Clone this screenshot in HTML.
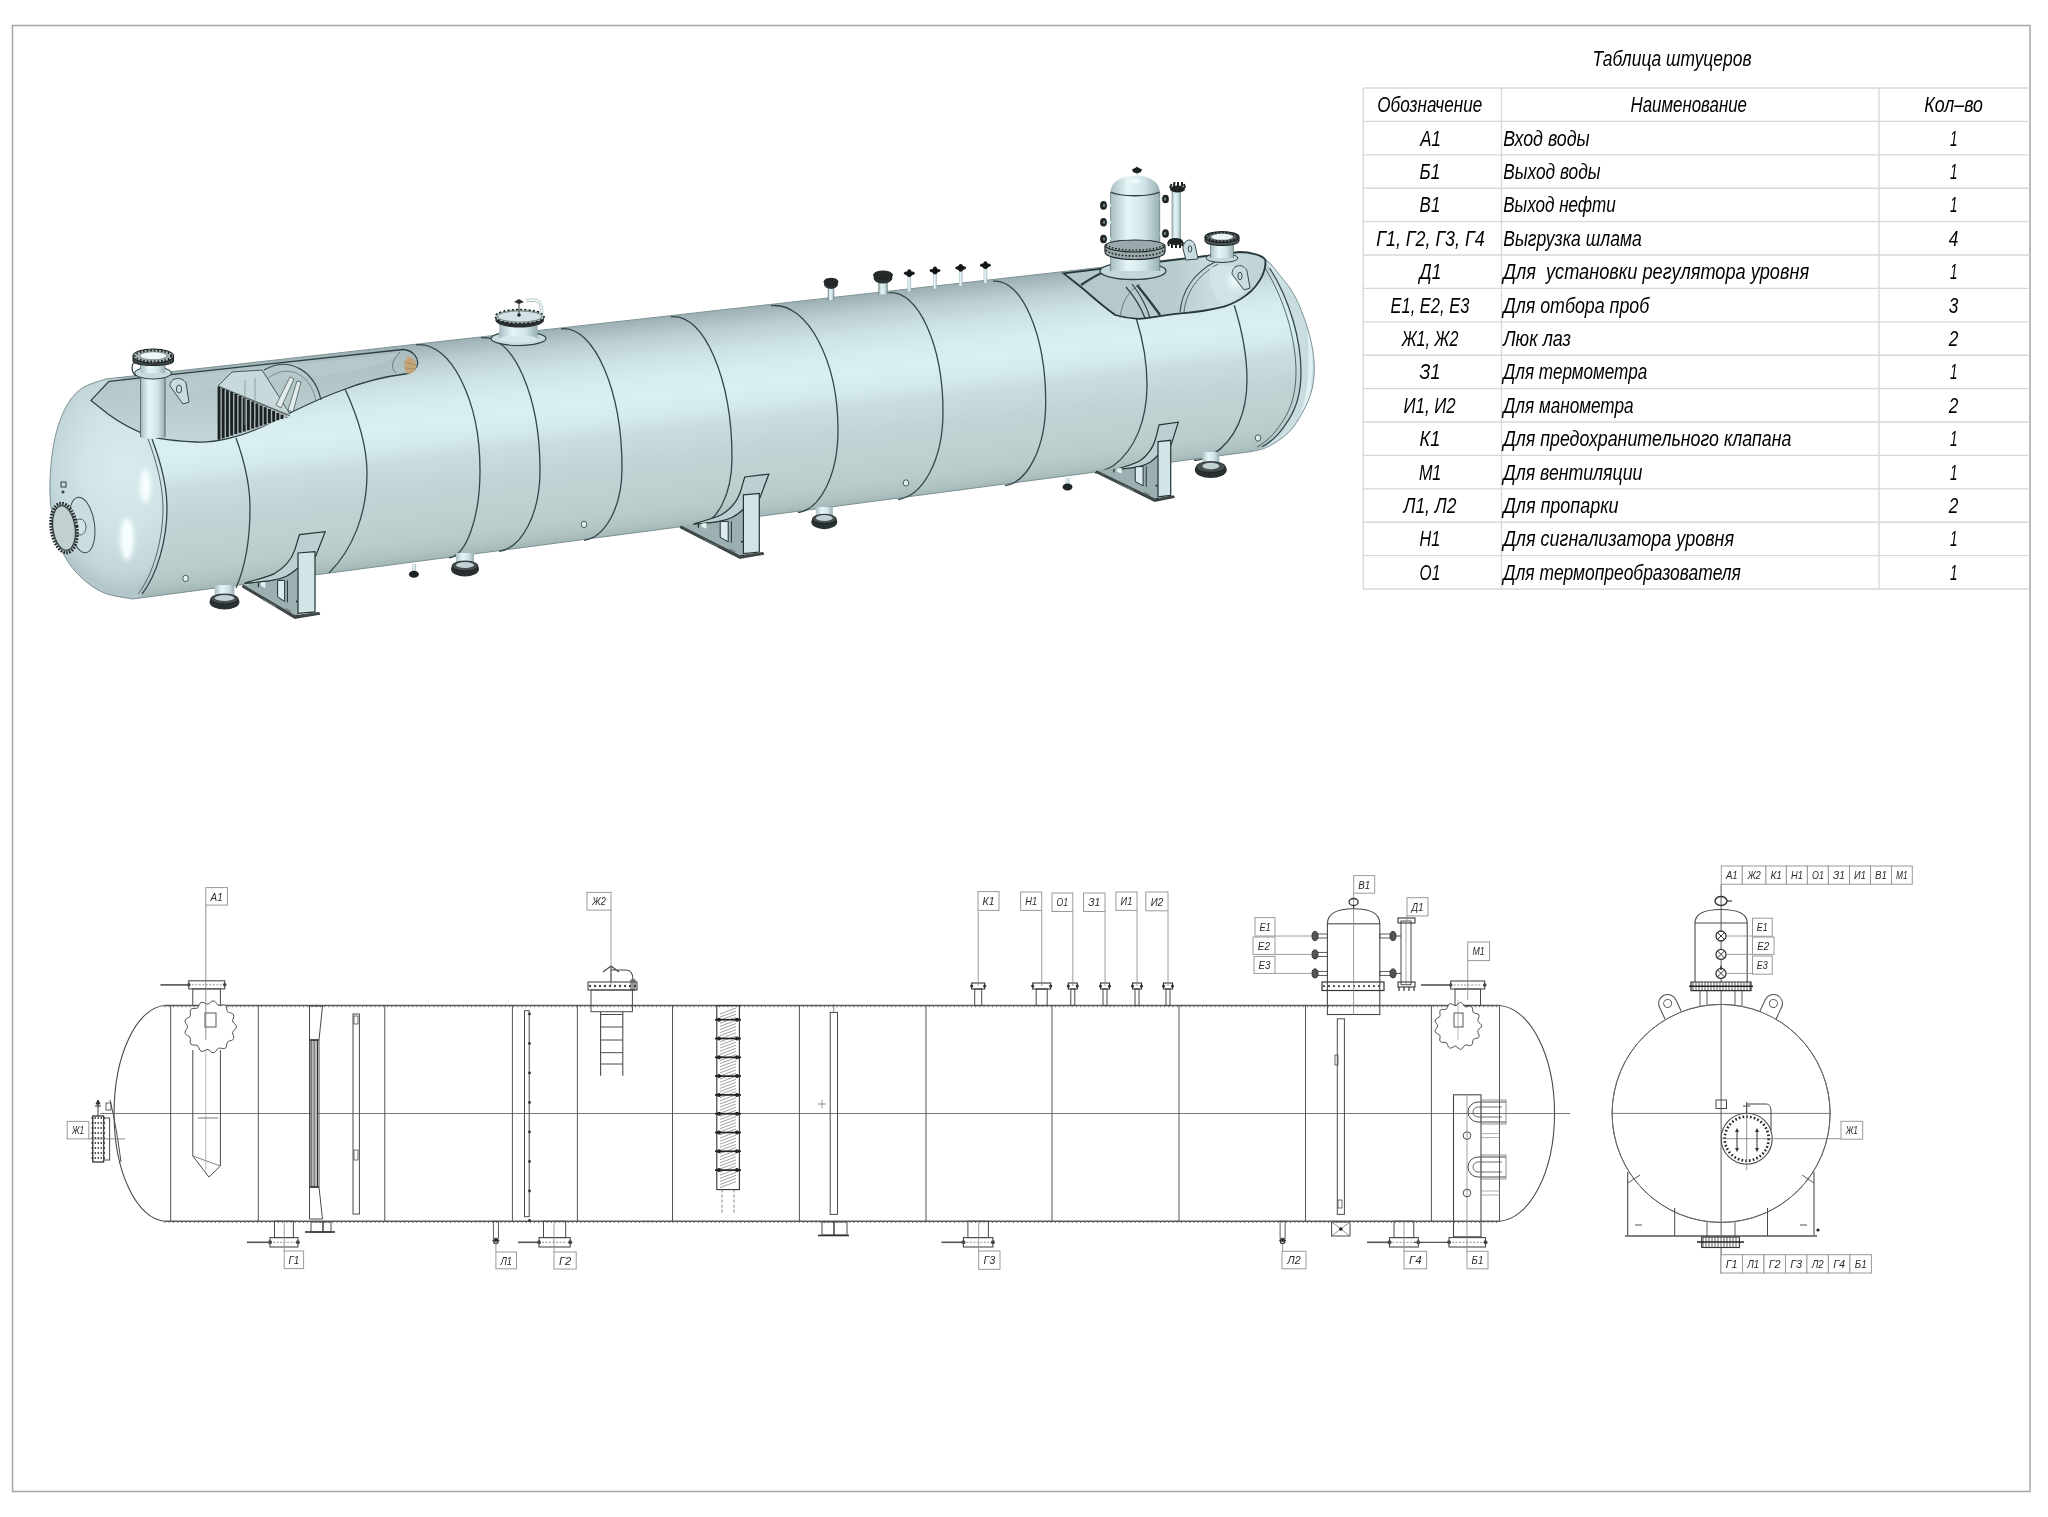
<!DOCTYPE html><html><head><meta charset="utf-8"><style>
html,body{margin:0;padding:0;background:#fff;}
body{width:2048px;height:1517px;overflow:hidden;position:relative;}
svg{position:absolute;left:0;top:0;will-change:transform;}
text{font-family:"Liberation Sans",sans-serif;font-style:italic;}
</style></head><body>
<svg width="2048" height="1517" viewBox="0 0 2048 1517">
<defs>
<linearGradient id="gBody" gradientUnits="userSpaceOnUse" x1="690" y1="308" x2="714" y2="526">
<stop offset="0" stop-color="#b0c4c7"/><stop offset="0.07" stop-color="#bed2d4"/>
<stop offset="0.18" stop-color="#cde2e4"/><stop offset="0.28" stop-color="#d6ecee"/>
<stop offset="0.37" stop-color="#d9eff1"/><stop offset="0.46" stop-color="#d4e9eb"/>
<stop offset="0.53" stop-color="#c9dddf"/><stop offset="0.67" stop-color="#c1d4d5"/>
<stop offset="0.8" stop-color="#bed1d1"/><stop offset="0.9" stop-color="#b9cccc"/>
<stop offset="0.96" stop-color="#b0c3c3"/><stop offset="1" stop-color="#a2b6b4"/></linearGradient>
<linearGradient id="gCut" gradientUnits="userSpaceOnUse" x1="0" y1="350" x2="0" y2="445">
<stop offset="0" stop-color="#a9bdbf"/><stop offset="1" stop-color="#c4d7d9"/></linearGradient>
<radialGradient id="gLHead" gradientUnits="userSpaceOnUse" cx="125" cy="470" r="120" gradientTransform="translate(125 470) scale(0.7 1) translate(-125 -470)">
<stop offset="0" stop-color="#d8ecef"/><stop offset="0.5" stop-color="#d0e4e7"/><stop offset="0.85" stop-color="#c3d7da"/><stop offset="1" stop-color="#b3c7ca"/></radialGradient>
<radialGradient id="gRHead" gradientUnits="userSpaceOnUse" cx="1270" cy="360" r="70" gradientTransform="translate(1270 360) scale(0.8 1.5) translate(-1270 -360)">
<stop offset="0" stop-color="#d4e9eb"/><stop offset="0.7" stop-color="#c8dcde"/><stop offset="0.9" stop-color="#d6ebed"/><stop offset="1" stop-color="#a5b9bb"/></radialGradient>
<linearGradient id="gPipe" x1="0" x2="1" y1="0" y2="0">
<stop offset="0" stop-color="#a9bfc2"/><stop offset="0.35" stop-color="#e6f6f8"/><stop offset="0.7" stop-color="#cfe3e6"/><stop offset="1" stop-color="#98aeb1"/></linearGradient>
<filter id="blur3" x="-50%" y="-50%" width="200%" height="200%"><feGaussianBlur stdDeviation="3"/></filter>
<filter id="blur2" x="-50%" y="-50%" width="200%" height="200%"><feGaussianBlur stdDeviation="2.2"/></filter>
<filter id="blur1" x="-50%" y="-50%" width="200%" height="200%"><feGaussianBlur stdDeviation="0.6"/></filter>
</defs>
<rect x="12.5" y="25.5" width="2017.5" height="1466" fill="none" stroke="#a6a6a6" stroke-width="1.5"/>

<g id="tank">
<clipPath id="cBody"><path d="M105.9,379 L1238,252 C1242.2,252.9 1256.2,254.0 1263.0,257.7 C1269.8,261.4 1273.7,267.9 1279.0,274.3 C1284.3,280.8 1290.2,287.4 1294.9,296.4 C1299.7,305.3 1304.3,317.4 1307.5,328.0 C1310.7,338.6 1313.1,349.7 1313.9,359.7 C1314.7,369.7 1314.2,379.3 1312.3,388.0 C1310.4,396.7 1306.8,404.5 1302.8,411.9 C1298.8,419.3 1294.4,426.6 1288.6,432.4 C1282.8,438.2 1274.1,443.5 1268.0,446.7 C1261.9,449.9 1254.8,450.6 1252.2,451.4 L132.3,599 C127.4,597.9 111.7,596.4 102.6,592.3 C93.5,588.2 84.8,581.3 77.9,574.2 C71.0,567.1 65.7,559.1 61.4,549.5 C57.1,539.9 54.3,527.5 52.4,516.5 C50.5,505.5 49.6,496.0 49.9,483.6 C50.2,471.2 51.5,454.8 54.0,442.4 C56.5,430.0 60.2,418.3 64.7,409.4 C69.2,400.5 74.3,393.9 81.2,388.8 C88.1,383.7 101.8,380.6 105.9,379.0 Z"/></clipPath>
<g clip-path="url(#cBody)">
<linearGradient id="gs0" gradientUnits="userSpaceOnUse" x1="57.8" y1="384.3" x2="84.7" y2="605.2"><stop offset="0" stop-color="#9eb1b4"/><stop offset="0.03" stop-color="#a9bbbe"/><stop offset="0.08" stop-color="#b9cccf"/><stop offset="0.18" stop-color="#cde2e4"/><stop offset="0.28" stop-color="#d6ecee"/><stop offset="0.37" stop-color="#d9eff1"/><stop offset="0.46" stop-color="#d4e9eb"/><stop offset="0.53" stop-color="#c9dddf"/><stop offset="0.67" stop-color="#c1d4d5"/><stop offset="0.8" stop-color="#bed1d1"/><stop offset="0.9" stop-color="#b9cccc"/><stop offset="0.96" stop-color="#b0c3c3"/><stop offset="1" stop-color="#a2b6b4"/></linearGradient>
<path d="M39.4,200 L76.2,200 L76.2,640 L39.4,640 Z" fill="url(#gs0)"/>
<linearGradient id="gs1" gradientUnits="userSpaceOnUse" x1="93.3" y1="380.4" x2="120.2" y2="600.6"><stop offset="0" stop-color="#9eb1b4"/><stop offset="0.03" stop-color="#a9bbbe"/><stop offset="0.08" stop-color="#b9cccf"/><stop offset="0.18" stop-color="#cde2e4"/><stop offset="0.28" stop-color="#d6ecee"/><stop offset="0.37" stop-color="#d9eff1"/><stop offset="0.46" stop-color="#d4e9eb"/><stop offset="0.53" stop-color="#c9dddf"/><stop offset="0.67" stop-color="#c1d4d5"/><stop offset="0.8" stop-color="#bed1d1"/><stop offset="0.9" stop-color="#b9cccc"/><stop offset="0.96" stop-color="#b0c3c3"/><stop offset="1" stop-color="#a2b6b4"/></linearGradient>
<path d="M75.0,200 L111.7,200 L111.7,640 L75.0,640 Z" fill="url(#gs1)"/>
<linearGradient id="gs2" gradientUnits="userSpaceOnUse" x1="128.9" y1="376.5" x2="155.6" y2="596.0"><stop offset="0" stop-color="#9eb1b4"/><stop offset="0.03" stop-color="#a9bbbe"/><stop offset="0.08" stop-color="#b9cccf"/><stop offset="0.18" stop-color="#cde2e4"/><stop offset="0.28" stop-color="#d6ecee"/><stop offset="0.37" stop-color="#d9eff1"/><stop offset="0.46" stop-color="#d4e9eb"/><stop offset="0.53" stop-color="#c9dddf"/><stop offset="0.67" stop-color="#c1d4d5"/><stop offset="0.8" stop-color="#bed1d1"/><stop offset="0.9" stop-color="#b9cccc"/><stop offset="0.96" stop-color="#b0c3c3"/><stop offset="1" stop-color="#a2b6b4"/></linearGradient>
<path d="M110.5,200 L147.3,200 L147.3,640 L110.5,640 Z" fill="url(#gs2)"/>
<linearGradient id="gs3" gradientUnits="userSpaceOnUse" x1="164.4" y1="372.5" x2="191.1" y2="591.4"><stop offset="0" stop-color="#9eb1b4"/><stop offset="0.03" stop-color="#a9bbbe"/><stop offset="0.08" stop-color="#b9cccf"/><stop offset="0.18" stop-color="#cde2e4"/><stop offset="0.28" stop-color="#d6ecee"/><stop offset="0.37" stop-color="#d9eff1"/><stop offset="0.46" stop-color="#d4e9eb"/><stop offset="0.53" stop-color="#c9dddf"/><stop offset="0.67" stop-color="#c1d4d5"/><stop offset="0.8" stop-color="#bed1d1"/><stop offset="0.9" stop-color="#b9cccc"/><stop offset="0.96" stop-color="#b0c3c3"/><stop offset="1" stop-color="#a2b6b4"/></linearGradient>
<path d="M146.1,200 L182.8,200 L182.8,640 L146.1,640 Z" fill="url(#gs3)"/>
<linearGradient id="gs4" gradientUnits="userSpaceOnUse" x1="200.0" y1="368.6" x2="226.6" y2="586.7"><stop offset="0" stop-color="#9eb1b4"/><stop offset="0.03" stop-color="#a9bbbe"/><stop offset="0.08" stop-color="#b9cccf"/><stop offset="0.18" stop-color="#cde2e4"/><stop offset="0.28" stop-color="#d6ecee"/><stop offset="0.37" stop-color="#d9eff1"/><stop offset="0.46" stop-color="#d4e9eb"/><stop offset="0.53" stop-color="#c9dddf"/><stop offset="0.67" stop-color="#c1d4d5"/><stop offset="0.8" stop-color="#bed1d1"/><stop offset="0.9" stop-color="#b9cccc"/><stop offset="0.96" stop-color="#b0c3c3"/><stop offset="1" stop-color="#a2b6b4"/></linearGradient>
<path d="M181.6,200 L218.4,200 L218.4,640 L181.6,640 Z" fill="url(#gs4)"/>
<linearGradient id="gs5" gradientUnits="userSpaceOnUse" x1="235.6" y1="364.7" x2="262.1" y2="582.1"><stop offset="0" stop-color="#9eb1b4"/><stop offset="0.03" stop-color="#a9bbbe"/><stop offset="0.08" stop-color="#b9cccf"/><stop offset="0.18" stop-color="#cde2e4"/><stop offset="0.28" stop-color="#d6ecee"/><stop offset="0.37" stop-color="#d9eff1"/><stop offset="0.46" stop-color="#d4e9eb"/><stop offset="0.53" stop-color="#c9dddf"/><stop offset="0.67" stop-color="#c1d4d5"/><stop offset="0.8" stop-color="#bed1d1"/><stop offset="0.9" stop-color="#b9cccc"/><stop offset="0.96" stop-color="#b0c3c3"/><stop offset="1" stop-color="#a2b6b4"/></linearGradient>
<path d="M217.2,200 L253.9,200 L253.9,640 L217.2,640 Z" fill="url(#gs5)"/>
<linearGradient id="gs6" gradientUnits="userSpaceOnUse" x1="271.1" y1="360.8" x2="297.5" y2="577.5"><stop offset="0" stop-color="#9eb1b4"/><stop offset="0.03" stop-color="#a9bbbe"/><stop offset="0.08" stop-color="#b9cccf"/><stop offset="0.18" stop-color="#cde2e4"/><stop offset="0.28" stop-color="#d6ecee"/><stop offset="0.37" stop-color="#d9eff1"/><stop offset="0.46" stop-color="#d4e9eb"/><stop offset="0.53" stop-color="#c9dddf"/><stop offset="0.67" stop-color="#c1d4d5"/><stop offset="0.8" stop-color="#bed1d1"/><stop offset="0.9" stop-color="#b9cccc"/><stop offset="0.96" stop-color="#b0c3c3"/><stop offset="1" stop-color="#a2b6b4"/></linearGradient>
<path d="M252.7,200 L289.5,200 L289.5,640 L252.7,640 Z" fill="url(#gs6)"/>
<linearGradient id="gs7" gradientUnits="userSpaceOnUse" x1="306.7" y1="356.9" x2="333.0" y2="572.9"><stop offset="0" stop-color="#9eb1b4"/><stop offset="0.03" stop-color="#a9bbbe"/><stop offset="0.08" stop-color="#b9cccf"/><stop offset="0.18" stop-color="#cde2e4"/><stop offset="0.28" stop-color="#d6ecee"/><stop offset="0.37" stop-color="#d9eff1"/><stop offset="0.46" stop-color="#d4e9eb"/><stop offset="0.53" stop-color="#c9dddf"/><stop offset="0.67" stop-color="#c1d4d5"/><stop offset="0.8" stop-color="#bed1d1"/><stop offset="0.9" stop-color="#b9cccc"/><stop offset="0.96" stop-color="#b0c3c3"/><stop offset="1" stop-color="#a2b6b4"/></linearGradient>
<path d="M288.3,200 L325.0,200 L325.0,640 L288.3,640 Z" fill="url(#gs7)"/>
<linearGradient id="gs8" gradientUnits="userSpaceOnUse" x1="342.2" y1="353.0" x2="368.5" y2="568.3"><stop offset="0" stop-color="#9eb1b4"/><stop offset="0.03" stop-color="#a9bbbe"/><stop offset="0.08" stop-color="#b9cccf"/><stop offset="0.18" stop-color="#cde2e4"/><stop offset="0.28" stop-color="#d6ecee"/><stop offset="0.37" stop-color="#d9eff1"/><stop offset="0.46" stop-color="#d4e9eb"/><stop offset="0.53" stop-color="#c9dddf"/><stop offset="0.67" stop-color="#c1d4d5"/><stop offset="0.8" stop-color="#bed1d1"/><stop offset="0.9" stop-color="#b9cccc"/><stop offset="0.96" stop-color="#b0c3c3"/><stop offset="1" stop-color="#a2b6b4"/></linearGradient>
<path d="M323.8,200 L360.6,200 L360.6,640 L323.8,640 Z" fill="url(#gs8)"/>
<linearGradient id="gs9" gradientUnits="userSpaceOnUse" x1="377.8" y1="349.0" x2="403.9" y2="563.7"><stop offset="0" stop-color="#9eb1b4"/><stop offset="0.03" stop-color="#a9bbbe"/><stop offset="0.08" stop-color="#b9cccf"/><stop offset="0.18" stop-color="#cde2e4"/><stop offset="0.28" stop-color="#d6ecee"/><stop offset="0.37" stop-color="#d9eff1"/><stop offset="0.46" stop-color="#d4e9eb"/><stop offset="0.53" stop-color="#c9dddf"/><stop offset="0.67" stop-color="#c1d4d5"/><stop offset="0.8" stop-color="#bed1d1"/><stop offset="0.9" stop-color="#b9cccc"/><stop offset="0.96" stop-color="#b0c3c3"/><stop offset="1" stop-color="#a2b6b4"/></linearGradient>
<path d="M359.4,200 L396.2,200 L396.2,640 L359.4,640 Z" fill="url(#gs9)"/>
<linearGradient id="gs10" gradientUnits="userSpaceOnUse" x1="413.3" y1="345.1" x2="439.4" y2="559.1"><stop offset="0" stop-color="#9eb1b4"/><stop offset="0.03" stop-color="#a9bbbe"/><stop offset="0.08" stop-color="#b9cccf"/><stop offset="0.18" stop-color="#cde2e4"/><stop offset="0.28" stop-color="#d6ecee"/><stop offset="0.37" stop-color="#d9eff1"/><stop offset="0.46" stop-color="#d4e9eb"/><stop offset="0.53" stop-color="#c9dddf"/><stop offset="0.67" stop-color="#c1d4d5"/><stop offset="0.8" stop-color="#bed1d1"/><stop offset="0.9" stop-color="#b9cccc"/><stop offset="0.96" stop-color="#b0c3c3"/><stop offset="1" stop-color="#a2b6b4"/></linearGradient>
<path d="M395.0,200 L431.7,200 L431.7,640 L395.0,640 Z" fill="url(#gs10)"/>
<linearGradient id="gs11" gradientUnits="userSpaceOnUse" x1="448.9" y1="341.2" x2="474.9" y2="554.5"><stop offset="0" stop-color="#9eb1b4"/><stop offset="0.03" stop-color="#a9bbbe"/><stop offset="0.08" stop-color="#b9cccf"/><stop offset="0.18" stop-color="#cde2e4"/><stop offset="0.28" stop-color="#d6ecee"/><stop offset="0.37" stop-color="#d9eff1"/><stop offset="0.46" stop-color="#d4e9eb"/><stop offset="0.53" stop-color="#c9dddf"/><stop offset="0.67" stop-color="#c1d4d5"/><stop offset="0.8" stop-color="#bed1d1"/><stop offset="0.9" stop-color="#b9cccc"/><stop offset="0.96" stop-color="#b0c3c3"/><stop offset="1" stop-color="#a2b6b4"/></linearGradient>
<path d="M430.5,200 L467.3,200 L467.3,640 L430.5,640 Z" fill="url(#gs11)"/>
<linearGradient id="gs12" gradientUnits="userSpaceOnUse" x1="484.4" y1="337.3" x2="510.4" y2="549.9"><stop offset="0" stop-color="#9eb1b4"/><stop offset="0.03" stop-color="#a9bbbe"/><stop offset="0.08" stop-color="#b9cccf"/><stop offset="0.18" stop-color="#cde2e4"/><stop offset="0.28" stop-color="#d6ecee"/><stop offset="0.37" stop-color="#d9eff1"/><stop offset="0.46" stop-color="#d4e9eb"/><stop offset="0.53" stop-color="#c9dddf"/><stop offset="0.67" stop-color="#c1d4d5"/><stop offset="0.8" stop-color="#bed1d1"/><stop offset="0.9" stop-color="#b9cccc"/><stop offset="0.96" stop-color="#b0c3c3"/><stop offset="1" stop-color="#a2b6b4"/></linearGradient>
<path d="M466.1,200 L502.8,200 L502.8,640 L466.1,640 Z" fill="url(#gs12)"/>
<linearGradient id="gs13" gradientUnits="userSpaceOnUse" x1="520.0" y1="333.4" x2="545.8" y2="545.2"><stop offset="0" stop-color="#9eb1b4"/><stop offset="0.03" stop-color="#a9bbbe"/><stop offset="0.08" stop-color="#b9cccf"/><stop offset="0.18" stop-color="#cde2e4"/><stop offset="0.28" stop-color="#d6ecee"/><stop offset="0.37" stop-color="#d9eff1"/><stop offset="0.46" stop-color="#d4e9eb"/><stop offset="0.53" stop-color="#c9dddf"/><stop offset="0.67" stop-color="#c1d4d5"/><stop offset="0.8" stop-color="#bed1d1"/><stop offset="0.9" stop-color="#b9cccc"/><stop offset="0.96" stop-color="#b0c3c3"/><stop offset="1" stop-color="#a2b6b4"/></linearGradient>
<path d="M501.6,200 L538.4,200 L538.4,640 L501.6,640 Z" fill="url(#gs13)"/>
<linearGradient id="gs14" gradientUnits="userSpaceOnUse" x1="555.6" y1="329.4" x2="581.3" y2="540.6"><stop offset="0" stop-color="#9eb1b4"/><stop offset="0.03" stop-color="#a9bbbe"/><stop offset="0.08" stop-color="#b9cccf"/><stop offset="0.18" stop-color="#cde2e4"/><stop offset="0.28" stop-color="#d6ecee"/><stop offset="0.37" stop-color="#d9eff1"/><stop offset="0.46" stop-color="#d4e9eb"/><stop offset="0.53" stop-color="#c9dddf"/><stop offset="0.67" stop-color="#c1d4d5"/><stop offset="0.8" stop-color="#bed1d1"/><stop offset="0.9" stop-color="#b9cccc"/><stop offset="0.96" stop-color="#b0c3c3"/><stop offset="1" stop-color="#a2b6b4"/></linearGradient>
<path d="M537.2,200 L573.9,200 L573.9,640 L537.2,640 Z" fill="url(#gs14)"/>
<linearGradient id="gs15" gradientUnits="userSpaceOnUse" x1="591.1" y1="325.5" x2="616.8" y2="536.0"><stop offset="0" stop-color="#9eb1b4"/><stop offset="0.03" stop-color="#a9bbbe"/><stop offset="0.08" stop-color="#b9cccf"/><stop offset="0.18" stop-color="#cde2e4"/><stop offset="0.28" stop-color="#d6ecee"/><stop offset="0.37" stop-color="#d9eff1"/><stop offset="0.46" stop-color="#d4e9eb"/><stop offset="0.53" stop-color="#c9dddf"/><stop offset="0.67" stop-color="#c1d4d5"/><stop offset="0.8" stop-color="#bed1d1"/><stop offset="0.9" stop-color="#b9cccc"/><stop offset="0.96" stop-color="#b0c3c3"/><stop offset="1" stop-color="#a2b6b4"/></linearGradient>
<path d="M572.7,200 L609.5,200 L609.5,640 L572.7,640 Z" fill="url(#gs15)"/>
<linearGradient id="gs16" gradientUnits="userSpaceOnUse" x1="626.7" y1="321.6" x2="652.2" y2="531.4"><stop offset="0" stop-color="#9eb1b4"/><stop offset="0.03" stop-color="#a9bbbe"/><stop offset="0.08" stop-color="#b9cccf"/><stop offset="0.18" stop-color="#cde2e4"/><stop offset="0.28" stop-color="#d6ecee"/><stop offset="0.37" stop-color="#d9eff1"/><stop offset="0.46" stop-color="#d4e9eb"/><stop offset="0.53" stop-color="#c9dddf"/><stop offset="0.67" stop-color="#c1d4d5"/><stop offset="0.8" stop-color="#bed1d1"/><stop offset="0.9" stop-color="#b9cccc"/><stop offset="0.96" stop-color="#b0c3c3"/><stop offset="1" stop-color="#a2b6b4"/></linearGradient>
<path d="M608.3,200 L645.0,200 L645.0,640 L608.3,640 Z" fill="url(#gs16)"/>
<linearGradient id="gs17" gradientUnits="userSpaceOnUse" x1="662.2" y1="317.7" x2="687.7" y2="526.8"><stop offset="0" stop-color="#9eb1b4"/><stop offset="0.03" stop-color="#a9bbbe"/><stop offset="0.08" stop-color="#b9cccf"/><stop offset="0.18" stop-color="#cde2e4"/><stop offset="0.28" stop-color="#d6ecee"/><stop offset="0.37" stop-color="#d9eff1"/><stop offset="0.46" stop-color="#d4e9eb"/><stop offset="0.53" stop-color="#c9dddf"/><stop offset="0.67" stop-color="#c1d4d5"/><stop offset="0.8" stop-color="#bed1d1"/><stop offset="0.9" stop-color="#b9cccc"/><stop offset="0.96" stop-color="#b0c3c3"/><stop offset="1" stop-color="#a2b6b4"/></linearGradient>
<path d="M643.8,200 L680.6,200 L680.6,640 L643.8,640 Z" fill="url(#gs17)"/>
<linearGradient id="gs18" gradientUnits="userSpaceOnUse" x1="697.8" y1="313.8" x2="723.2" y2="522.2"><stop offset="0" stop-color="#9eb1b4"/><stop offset="0.03" stop-color="#a9bbbe"/><stop offset="0.08" stop-color="#b9cccf"/><stop offset="0.18" stop-color="#cde2e4"/><stop offset="0.28" stop-color="#d6ecee"/><stop offset="0.37" stop-color="#d9eff1"/><stop offset="0.46" stop-color="#d4e9eb"/><stop offset="0.53" stop-color="#c9dddf"/><stop offset="0.67" stop-color="#c1d4d5"/><stop offset="0.8" stop-color="#bed1d1"/><stop offset="0.9" stop-color="#b9cccc"/><stop offset="0.96" stop-color="#b0c3c3"/><stop offset="1" stop-color="#a2b6b4"/></linearGradient>
<path d="M679.4,200 L716.2,200 L716.2,640 L679.4,640 Z" fill="url(#gs18)"/>
<linearGradient id="gs19" gradientUnits="userSpaceOnUse" x1="733.3" y1="309.9" x2="758.7" y2="517.6"><stop offset="0" stop-color="#9eb1b4"/><stop offset="0.03" stop-color="#a9bbbe"/><stop offset="0.08" stop-color="#b9cccf"/><stop offset="0.18" stop-color="#cde2e4"/><stop offset="0.28" stop-color="#d6ecee"/><stop offset="0.37" stop-color="#d9eff1"/><stop offset="0.46" stop-color="#d4e9eb"/><stop offset="0.53" stop-color="#c9dddf"/><stop offset="0.67" stop-color="#c1d4d5"/><stop offset="0.8" stop-color="#bed1d1"/><stop offset="0.9" stop-color="#b9cccc"/><stop offset="0.96" stop-color="#b0c3c3"/><stop offset="1" stop-color="#a2b6b4"/></linearGradient>
<path d="M715.0,200 L751.7,200 L751.7,640 L715.0,640 Z" fill="url(#gs19)"/>
<linearGradient id="gs20" gradientUnits="userSpaceOnUse" x1="768.9" y1="305.9" x2="794.1" y2="513.0"><stop offset="0" stop-color="#9eb1b4"/><stop offset="0.03" stop-color="#a9bbbe"/><stop offset="0.08" stop-color="#b9cccf"/><stop offset="0.18" stop-color="#cde2e4"/><stop offset="0.28" stop-color="#d6ecee"/><stop offset="0.37" stop-color="#d9eff1"/><stop offset="0.46" stop-color="#d4e9eb"/><stop offset="0.53" stop-color="#c9dddf"/><stop offset="0.67" stop-color="#c1d4d5"/><stop offset="0.8" stop-color="#bed1d1"/><stop offset="0.9" stop-color="#b9cccc"/><stop offset="0.96" stop-color="#b0c3c3"/><stop offset="1" stop-color="#a2b6b4"/></linearGradient>
<path d="M750.5,200 L787.3,200 L787.3,640 L750.5,640 Z" fill="url(#gs20)"/>
<linearGradient id="gs21" gradientUnits="userSpaceOnUse" x1="804.4" y1="302.0" x2="829.6" y2="508.4"><stop offset="0" stop-color="#9eb1b4"/><stop offset="0.03" stop-color="#a9bbbe"/><stop offset="0.08" stop-color="#b9cccf"/><stop offset="0.18" stop-color="#cde2e4"/><stop offset="0.28" stop-color="#d6ecee"/><stop offset="0.37" stop-color="#d9eff1"/><stop offset="0.46" stop-color="#d4e9eb"/><stop offset="0.53" stop-color="#c9dddf"/><stop offset="0.67" stop-color="#c1d4d5"/><stop offset="0.8" stop-color="#bed1d1"/><stop offset="0.9" stop-color="#b9cccc"/><stop offset="0.96" stop-color="#b0c3c3"/><stop offset="1" stop-color="#a2b6b4"/></linearGradient>
<path d="M786.1,200 L822.8,200 L822.8,640 L786.1,640 Z" fill="url(#gs21)"/>
<linearGradient id="gs22" gradientUnits="userSpaceOnUse" x1="840.0" y1="298.1" x2="865.1" y2="503.7"><stop offset="0" stop-color="#9eb1b4"/><stop offset="0.03" stop-color="#a9bbbe"/><stop offset="0.08" stop-color="#b9cccf"/><stop offset="0.18" stop-color="#cde2e4"/><stop offset="0.28" stop-color="#d6ecee"/><stop offset="0.37" stop-color="#d9eff1"/><stop offset="0.46" stop-color="#d4e9eb"/><stop offset="0.53" stop-color="#c9dddf"/><stop offset="0.67" stop-color="#c1d4d5"/><stop offset="0.8" stop-color="#bed1d1"/><stop offset="0.9" stop-color="#b9cccc"/><stop offset="0.96" stop-color="#b0c3c3"/><stop offset="1" stop-color="#a2b6b4"/></linearGradient>
<path d="M821.6,200 L858.4,200 L858.4,640 L821.6,640 Z" fill="url(#gs22)"/>
<linearGradient id="gs23" gradientUnits="userSpaceOnUse" x1="875.6" y1="294.2" x2="900.5" y2="499.1"><stop offset="0" stop-color="#9eb1b4"/><stop offset="0.03" stop-color="#a9bbbe"/><stop offset="0.08" stop-color="#b9cccf"/><stop offset="0.18" stop-color="#cde2e4"/><stop offset="0.28" stop-color="#d6ecee"/><stop offset="0.37" stop-color="#d9eff1"/><stop offset="0.46" stop-color="#d4e9eb"/><stop offset="0.53" stop-color="#c9dddf"/><stop offset="0.67" stop-color="#c1d4d5"/><stop offset="0.8" stop-color="#bed1d1"/><stop offset="0.9" stop-color="#b9cccc"/><stop offset="0.96" stop-color="#b0c3c3"/><stop offset="1" stop-color="#a2b6b4"/></linearGradient>
<path d="M857.2,200 L893.9,200 L893.9,640 L857.2,640 Z" fill="url(#gs23)"/>
<linearGradient id="gs24" gradientUnits="userSpaceOnUse" x1="911.1" y1="290.3" x2="936.0" y2="494.5"><stop offset="0" stop-color="#9eb1b4"/><stop offset="0.03" stop-color="#a9bbbe"/><stop offset="0.08" stop-color="#b9cccf"/><stop offset="0.18" stop-color="#cde2e4"/><stop offset="0.28" stop-color="#d6ecee"/><stop offset="0.37" stop-color="#d9eff1"/><stop offset="0.46" stop-color="#d4e9eb"/><stop offset="0.53" stop-color="#c9dddf"/><stop offset="0.67" stop-color="#c1d4d5"/><stop offset="0.8" stop-color="#bed1d1"/><stop offset="0.9" stop-color="#b9cccc"/><stop offset="0.96" stop-color="#b0c3c3"/><stop offset="1" stop-color="#a2b6b4"/></linearGradient>
<path d="M892.7,200 L929.5,200 L929.5,640 L892.7,640 Z" fill="url(#gs24)"/>
<linearGradient id="gs25" gradientUnits="userSpaceOnUse" x1="946.7" y1="286.3" x2="971.5" y2="489.9"><stop offset="0" stop-color="#9eb1b4"/><stop offset="0.03" stop-color="#a9bbbe"/><stop offset="0.08" stop-color="#b9cccf"/><stop offset="0.18" stop-color="#cde2e4"/><stop offset="0.28" stop-color="#d6ecee"/><stop offset="0.37" stop-color="#d9eff1"/><stop offset="0.46" stop-color="#d4e9eb"/><stop offset="0.53" stop-color="#c9dddf"/><stop offset="0.67" stop-color="#c1d4d5"/><stop offset="0.8" stop-color="#bed1d1"/><stop offset="0.9" stop-color="#b9cccc"/><stop offset="0.96" stop-color="#b0c3c3"/><stop offset="1" stop-color="#a2b6b4"/></linearGradient>
<path d="M928.3,200 L965.0,200 L965.0,640 L928.3,640 Z" fill="url(#gs25)"/>
<linearGradient id="gs26" gradientUnits="userSpaceOnUse" x1="982.2" y1="282.4" x2="1007.0" y2="485.3"><stop offset="0" stop-color="#9eb1b4"/><stop offset="0.03" stop-color="#a9bbbe"/><stop offset="0.08" stop-color="#b9cccf"/><stop offset="0.18" stop-color="#cde2e4"/><stop offset="0.28" stop-color="#d6ecee"/><stop offset="0.37" stop-color="#d9eff1"/><stop offset="0.46" stop-color="#d4e9eb"/><stop offset="0.53" stop-color="#c9dddf"/><stop offset="0.67" stop-color="#c1d4d5"/><stop offset="0.8" stop-color="#bed1d1"/><stop offset="0.9" stop-color="#b9cccc"/><stop offset="0.96" stop-color="#b0c3c3"/><stop offset="1" stop-color="#a2b6b4"/></linearGradient>
<path d="M963.8,200 L1000.6,200 L1000.6,640 L963.8,640 Z" fill="url(#gs26)"/>
<linearGradient id="gs27" gradientUnits="userSpaceOnUse" x1="1017.8" y1="278.5" x2="1042.4" y2="480.7"><stop offset="0" stop-color="#9eb1b4"/><stop offset="0.03" stop-color="#a9bbbe"/><stop offset="0.08" stop-color="#b9cccf"/><stop offset="0.18" stop-color="#cde2e4"/><stop offset="0.28" stop-color="#d6ecee"/><stop offset="0.37" stop-color="#d9eff1"/><stop offset="0.46" stop-color="#d4e9eb"/><stop offset="0.53" stop-color="#c9dddf"/><stop offset="0.67" stop-color="#c1d4d5"/><stop offset="0.8" stop-color="#bed1d1"/><stop offset="0.9" stop-color="#b9cccc"/><stop offset="0.96" stop-color="#b0c3c3"/><stop offset="1" stop-color="#a2b6b4"/></linearGradient>
<path d="M999.4,200 L1036.2,200 L1036.2,640 L999.4,640 Z" fill="url(#gs27)"/>
<linearGradient id="gs28" gradientUnits="userSpaceOnUse" x1="1053.3" y1="274.6" x2="1077.9" y2="476.1"><stop offset="0" stop-color="#9eb1b4"/><stop offset="0.03" stop-color="#a9bbbe"/><stop offset="0.08" stop-color="#b9cccf"/><stop offset="0.18" stop-color="#cde2e4"/><stop offset="0.28" stop-color="#d6ecee"/><stop offset="0.37" stop-color="#d9eff1"/><stop offset="0.46" stop-color="#d4e9eb"/><stop offset="0.53" stop-color="#c9dddf"/><stop offset="0.67" stop-color="#c1d4d5"/><stop offset="0.8" stop-color="#bed1d1"/><stop offset="0.9" stop-color="#b9cccc"/><stop offset="0.96" stop-color="#b0c3c3"/><stop offset="1" stop-color="#a2b6b4"/></linearGradient>
<path d="M1035.0,200 L1071.7,200 L1071.7,640 L1035.0,640 Z" fill="url(#gs28)"/>
<linearGradient id="gs29" gradientUnits="userSpaceOnUse" x1="1088.9" y1="270.7" x2="1113.4" y2="471.5"><stop offset="0" stop-color="#9eb1b4"/><stop offset="0.03" stop-color="#a9bbbe"/><stop offset="0.08" stop-color="#b9cccf"/><stop offset="0.18" stop-color="#cde2e4"/><stop offset="0.28" stop-color="#d6ecee"/><stop offset="0.37" stop-color="#d9eff1"/><stop offset="0.46" stop-color="#d4e9eb"/><stop offset="0.53" stop-color="#c9dddf"/><stop offset="0.67" stop-color="#c1d4d5"/><stop offset="0.8" stop-color="#bed1d1"/><stop offset="0.9" stop-color="#b9cccc"/><stop offset="0.96" stop-color="#b0c3c3"/><stop offset="1" stop-color="#a2b6b4"/></linearGradient>
<path d="M1070.5,200 L1107.3,200 L1107.3,640 L1070.5,640 Z" fill="url(#gs29)"/>
<linearGradient id="gs30" gradientUnits="userSpaceOnUse" x1="1124.4" y1="266.8" x2="1148.8" y2="466.9"><stop offset="0" stop-color="#9eb1b4"/><stop offset="0.03" stop-color="#a9bbbe"/><stop offset="0.08" stop-color="#b9cccf"/><stop offset="0.18" stop-color="#cde2e4"/><stop offset="0.28" stop-color="#d6ecee"/><stop offset="0.37" stop-color="#d9eff1"/><stop offset="0.46" stop-color="#d4e9eb"/><stop offset="0.53" stop-color="#c9dddf"/><stop offset="0.67" stop-color="#c1d4d5"/><stop offset="0.8" stop-color="#bed1d1"/><stop offset="0.9" stop-color="#b9cccc"/><stop offset="0.96" stop-color="#b0c3c3"/><stop offset="1" stop-color="#a2b6b4"/></linearGradient>
<path d="M1106.1,200 L1142.8,200 L1142.8,640 L1106.1,640 Z" fill="url(#gs30)"/>
<linearGradient id="gs31" gradientUnits="userSpaceOnUse" x1="1160.0" y1="262.8" x2="1184.3" y2="462.2"><stop offset="0" stop-color="#9eb1b4"/><stop offset="0.03" stop-color="#a9bbbe"/><stop offset="0.08" stop-color="#b9cccf"/><stop offset="0.18" stop-color="#cde2e4"/><stop offset="0.28" stop-color="#d6ecee"/><stop offset="0.37" stop-color="#d9eff1"/><stop offset="0.46" stop-color="#d4e9eb"/><stop offset="0.53" stop-color="#c9dddf"/><stop offset="0.67" stop-color="#c1d4d5"/><stop offset="0.8" stop-color="#bed1d1"/><stop offset="0.9" stop-color="#b9cccc"/><stop offset="0.96" stop-color="#b0c3c3"/><stop offset="1" stop-color="#a2b6b4"/></linearGradient>
<path d="M1141.6,200 L1178.4,200 L1178.4,640 L1141.6,640 Z" fill="url(#gs31)"/>
<linearGradient id="gs32" gradientUnits="userSpaceOnUse" x1="1195.6" y1="258.9" x2="1219.8" y2="457.6"><stop offset="0" stop-color="#9eb1b4"/><stop offset="0.03" stop-color="#a9bbbe"/><stop offset="0.08" stop-color="#b9cccf"/><stop offset="0.18" stop-color="#cde2e4"/><stop offset="0.28" stop-color="#d6ecee"/><stop offset="0.37" stop-color="#d9eff1"/><stop offset="0.46" stop-color="#d4e9eb"/><stop offset="0.53" stop-color="#c9dddf"/><stop offset="0.67" stop-color="#c1d4d5"/><stop offset="0.8" stop-color="#bed1d1"/><stop offset="0.9" stop-color="#b9cccc"/><stop offset="0.96" stop-color="#b0c3c3"/><stop offset="1" stop-color="#a2b6b4"/></linearGradient>
<path d="M1177.2,200 L1213.9,200 L1213.9,640 L1177.2,640 Z" fill="url(#gs32)"/>
<linearGradient id="gs33" gradientUnits="userSpaceOnUse" x1="1231.1" y1="255.0" x2="1255.2" y2="453.0"><stop offset="0" stop-color="#9eb1b4"/><stop offset="0.03" stop-color="#a9bbbe"/><stop offset="0.08" stop-color="#b9cccf"/><stop offset="0.18" stop-color="#cde2e4"/><stop offset="0.28" stop-color="#d6ecee"/><stop offset="0.37" stop-color="#d9eff1"/><stop offset="0.46" stop-color="#d4e9eb"/><stop offset="0.53" stop-color="#c9dddf"/><stop offset="0.67" stop-color="#c1d4d5"/><stop offset="0.8" stop-color="#bed1d1"/><stop offset="0.9" stop-color="#b9cccc"/><stop offset="0.96" stop-color="#b0c3c3"/><stop offset="1" stop-color="#a2b6b4"/></linearGradient>
<path d="M1212.7,200 L1249.5,200 L1249.5,640 L1212.7,640 Z" fill="url(#gs33)"/>
<linearGradient id="gs34" gradientUnits="userSpaceOnUse" x1="1266.7" y1="251.1" x2="1290.7" y2="448.4"><stop offset="0" stop-color="#9eb1b4"/><stop offset="0.03" stop-color="#a9bbbe"/><stop offset="0.08" stop-color="#b9cccf"/><stop offset="0.18" stop-color="#cde2e4"/><stop offset="0.28" stop-color="#d6ecee"/><stop offset="0.37" stop-color="#d9eff1"/><stop offset="0.46" stop-color="#d4e9eb"/><stop offset="0.53" stop-color="#c9dddf"/><stop offset="0.67" stop-color="#c1d4d5"/><stop offset="0.8" stop-color="#bed1d1"/><stop offset="0.9" stop-color="#b9cccc"/><stop offset="0.96" stop-color="#b0c3c3"/><stop offset="1" stop-color="#a2b6b4"/></linearGradient>
<path d="M1248.3,200 L1285.0,200 L1285.0,640 L1248.3,640 Z" fill="url(#gs34)"/>
<linearGradient id="gs35" gradientUnits="userSpaceOnUse" x1="1302.2" y1="247.2" x2="1326.2" y2="443.8"><stop offset="0" stop-color="#9eb1b4"/><stop offset="0.03" stop-color="#a9bbbe"/><stop offset="0.08" stop-color="#b9cccf"/><stop offset="0.18" stop-color="#cde2e4"/><stop offset="0.28" stop-color="#d6ecee"/><stop offset="0.37" stop-color="#d9eff1"/><stop offset="0.46" stop-color="#d4e9eb"/><stop offset="0.53" stop-color="#c9dddf"/><stop offset="0.67" stop-color="#c1d4d5"/><stop offset="0.8" stop-color="#bed1d1"/><stop offset="0.9" stop-color="#b9cccc"/><stop offset="0.96" stop-color="#b0c3c3"/><stop offset="1" stop-color="#a2b6b4"/></linearGradient>
<path d="M1283.8,200 L1320.6,200 L1320.6,640 L1283.8,640 Z" fill="url(#gs35)"/>
<path d="M105.9,379.0 C98.6,380.5 88.1,383.7 81.2,388.8 C74.3,393.9 69.2,400.5 64.7,409.4 C60.2,418.3 56.5,430.0 54.0,442.4 C51.5,454.8 50.2,471.2 49.9,483.6 C49.6,496.0 50.5,505.5 52.4,516.5 C54.3,527.5 57.1,539.9 61.4,549.5 C65.7,559.1 71.0,567.1 77.9,574.2 C84.8,581.3 93.5,588.2 102.6,592.3 C111.7,596.4 125.7,598.7 132.3,599.0 C138.9,599.3 137.6,601.3 142.2,594.0 C146.8,586.7 155.9,569.3 160.0,555.0 C164.1,540.7 166.9,523.3 166.9,508.3 C166.9,493.3 162.5,476.6 160.0,465.0 C157.5,453.4 155.3,450.7 152.0,439.0 C148.7,427.3 144.5,404.8 140.0,395.0 C135.5,385.2 130.7,382.7 125.0,380.0 C119.3,377.3 113.2,377.5 105.9,379.0Z" fill="url(#gLHead)" opacity="0.95"/>
<ellipse cx="145.5" cy="486" rx="5.5" ry="17" fill="#f7feff" filter="url(#blur2)"/>
<ellipse cx="127" cy="539" rx="7" ry="21" fill="#f7feff" filter="url(#blur2)"/>
<path d="M1263.0,257.7 C1264.6,258.8 1273.7,267.9 1279.0,274.3 C1284.3,280.8 1290.2,287.4 1294.9,296.4 C1299.7,305.3 1304.3,317.4 1307.5,328.0 C1310.7,338.6 1313.1,349.7 1313.9,359.7 C1314.7,369.7 1314.2,379.3 1312.3,388.0 C1310.4,396.7 1306.8,404.5 1302.8,411.9 C1298.8,419.3 1294.4,426.6 1288.6,432.4 C1282.8,438.2 1274.1,443.5 1268.0,446.7 C1261.9,449.9 1252.5,451.7 1252.2,451.4 C1251.9,451.1 1260.3,450.3 1266.4,445.0 C1272.5,439.7 1282.8,431.9 1288.6,419.8 C1294.4,407.7 1300.6,388.9 1301.2,372.3 C1301.8,355.7 1297.3,337.4 1292.0,320.0 C1286.7,302.6 1274.4,278.4 1269.6,268.0 C1264.8,257.6 1261.4,256.6 1263.0,257.7Z" fill="url(#gRHead)"/>
<path d="M1303,300 C1313,330 1314,390 1300,420" stroke="#e4f5f7" stroke-width="4" fill="none" filter="url(#blur1)" opacity="0.8"/>
</g>
<path d="M105.9,379 L1238,252 C1242.2,252.9 1256.2,254.0 1263.0,257.7 C1269.8,261.4 1273.7,267.9 1279.0,274.3 C1284.3,280.8 1290.2,287.4 1294.9,296.4 C1299.7,305.3 1304.3,317.4 1307.5,328.0 C1310.7,338.6 1313.1,349.7 1313.9,359.7 C1314.7,369.7 1314.2,379.3 1312.3,388.0 C1310.4,396.7 1306.8,404.5 1302.8,411.9 C1298.8,419.3 1294.4,426.6 1288.6,432.4 C1282.8,438.2 1274.1,443.5 1268.0,446.7 C1261.9,449.9 1254.8,450.6 1252.2,451.4 L132.3,599 C127.4,597.9 111.7,596.4 102.6,592.3 C93.5,588.2 84.8,581.3 77.9,574.2 C71.0,567.1 65.7,559.1 61.4,549.5 C57.1,539.9 54.3,527.5 52.4,516.5 C50.5,505.5 49.6,496.0 49.9,483.6 C50.2,471.2 51.5,454.8 54.0,442.4 C56.5,430.0 60.2,418.3 64.7,409.4 C69.2,400.5 74.3,393.9 81.2,388.8 C88.1,383.7 101.8,380.6 105.9,379.0 Z" fill="none" stroke="#7d9194" stroke-width="1"/>
<path d="M91,400.4 L109,381.4 L403,349.5 C412,350 420,358 417,366 C414,372 408,374 405,374 C380,377 360,383 340,391 C310,402 290,413 262,427 C240,437 215,443 196,442 C175,441 160,439 151,436.4 C135,431 120,423 108,414 Z" fill="url(#gCut)" stroke="#2d3f42" stroke-width="1.3"/>
<path d="M112,384 L400,353 C395,360 370,368 350,372 L140,398 Z" fill="#b9cdcf" opacity="0.6"/>
<path d="M408,356 C414,358 418,363 416,368 C414,372 411,374 407,373.5 C403,368 404,361 408,356 Z" fill="#c4a679"/>
<path d="M404,362 L416,365 M405,368 L415,369" stroke="#8e7a5a" stroke-width="0.6"/>
<path d="M400,352 C392,360 390,368 396,373" fill="none" stroke="#5a6b6d" stroke-width="0.8"/>
<path d="M218,386 L218,440 L262,427 L290,414 Z" fill="#aab4b5"/>
<path d="M219.0,386.4 L219.0,439.7 M223.2,388.3 L223.2,438.3 M227.4,390.2 L227.4,436.9 M231.6,392.1 L231.6,435.5 M235.8,394.0 L235.8,434.1 M240.0,395.9 L240.0,432.7 M244.2,397.8 L244.2,431.4 M248.4,399.7 L248.4,430.0 M252.6,401.6 L252.6,428.6 M256.8,403.5 L256.8,427.2 M261.0,405.4 L261.0,425.8 M265.2,407.2 L265.2,424.4 M269.4,409.1 L269.4,423.0 M273.6,411.0 L273.6,421.7 M277.8,412.9 L277.8,420.3 M282.0,414.8 L282.0,418.9 M286.2,416.7 L286.2,417.5" stroke="#1a2122" stroke-width="2.8" fill="none"/>
<path d="M218,386 L232,372 L262,370 L290,414" fill="#c8d9db" stroke="#3a4b4d" stroke-width="0.9"/>
<path d="M218,386 L290,416" stroke="#3a4b4d" stroke-width="0.9" fill="none"/>
<path d="M264,370 C290,355 315,372 321,400" fill="none" stroke="#3a4b4d" stroke-width="1.2"/>
<path d="M268,378 C290,362 312,376 316,402" fill="none" stroke="#6a7c7e" stroke-width="0.8"/>
<path d="M276,405 L290,377 L294,379 L281,408 Z M288,410 L297,381 L301,382 L293,412Z" fill="#e2eced" stroke="#3a4b4d" stroke-width="0.7"/>
<path d="M245,380 L245,425 M255,378 L255,420" stroke="#7f9294" stroke-width="0.8"/>
<path d="M170,386 C170,377 182,376 186,383 L189,402 L183,404 Z" fill="#c9dcde" stroke="#3a4b4d" stroke-width="1"/>
<ellipse cx="179" cy="389" rx="2.6" ry="4" fill="none" stroke="#3a4b4d" stroke-width="1"/>
<linearGradient id="gCutR" gradientUnits="userSpaceOnUse" x1="1070" y1="0" x2="1260" y2="0"><stop offset="0" stop-color="#b3c6c8"/><stop offset="0.55" stop-color="#b8cbcd"/><stop offset="0.75" stop-color="#c9dddf"/><stop offset="1" stop-color="#c0d4d6"/></linearGradient>
<path d="M1063.6,273.4 L1239.5,252 C1250,252 1262,255 1265.3,259.7 C1266,266 1264,272 1262,276.4 C1257,286 1252,291 1247,294.6 C1240,300 1232,304 1224,306.7 C1210,310 1200,312 1186.4,312.8 C1165,314 1150,319 1138,318.8 C1130,318.5 1122,317 1115.2,315 C1104,307 1096,300 1088,293 C1080,286 1072,280 1063.6,273.4 Z" fill="url(#gCutR)" stroke="#26363a" stroke-width="1.8"/>
<path d="M1180,312 C1182,290 1195,272 1215,262" fill="none" stroke="#3a4b4d" stroke-width="1.1"/>
<path d="M1184,312 C1186,292 1198,275 1218,264" fill="none" stroke="#3a4b4d" stroke-width="0.8"/>
<path d="M1210,268 C1228,262 1245,266 1250,285 C1245,295 1232,302 1222,305 C1212,295 1208,280 1210,268Z" fill="#d0e4e6"/>
<ellipse cx="1235" cy="280" rx="6" ry="9" fill="#eef9fb" filter="url(#blur3)"/>
<path d="M1081,285 C1090,279 1098,274 1106,271" fill="none" stroke="#2d3f42" stroke-width="2.4"/>
<path d="M1137,285 C1145,295 1153,305 1160,315" fill="none" stroke="#2d3f42" stroke-width="2.4"/>
<path d="M1126,287 C1133,295 1140,305 1145,318" fill="none" stroke="#2d3f42" stroke-width="1.2"/>
<path d="M1132,284 C1139,293 1146,304 1150,318" fill="none" stroke="#2d3f42" stroke-width="1.2"/>
<path d="M1120,318 C1122,300 1130,290 1140,284" fill="none" stroke="#5a6b6d" stroke-width="0.8"/>
<path d="M152,439 C160,460 167,485 167,508 C167,540 157,575 142,594" fill="none" stroke="#33474a" stroke-width="1.3"/>
<path d="M148,439 C156,460 163,485 163,508 C163,540 153,575 138,594" fill="none" stroke="#33474a" stroke-width="0.8"/>
<path d="M236,438 C244,460 250,485 250,508 C250,540 246,565 236,588" fill="none" stroke="#33474a" stroke-width="1.3"/>
<path d="M345,389 C357,415 367,445 367,473 C367,515 352,550 329,573" fill="none" stroke="#33474a" stroke-width="1.3"/>
<path d="M416.0,344.8 C451.2,341.0 480.0,401.2 480.0,470.0 C480.0,518.3 466.1,555.6 449.0,557.8" fill="none" stroke="#33474a" stroke-width="1.3"/>
<path d="M481.0,337.7 C513.5,334.1 540.0,397.2 540.0,470.0 C540.0,514.7 521.5,548.4 499.0,551.3" fill="none" stroke="#33474a" stroke-width="1.3"/>
<path d="M561.0,328.8 C594.5,325.2 622.0,391.5 622.0,468.0 C622.0,507.8 604.9,537.6 584.0,540.3" fill="none" stroke="#33474a" stroke-width="1.3"/>
<path d="M671.0,316.7 C704.5,313.0 732.0,380.3 732.0,458.0 C732.0,495.1 716.7,523.0 698.0,525.5" fill="none" stroke="#33474a" stroke-width="1.3"/>
<path d="M771.0,305.7 C807.9,301.7 838.0,361.6 838.0,430.0 C838.0,475.4 820.0,509.6 798.0,512.5" fill="none" stroke="#33474a" stroke-width="1.3"/>
<path d="M888.5,292.8 C918.5,289.5 943.0,346.4 943.0,412.0 C943.0,460.1 922.8,496.2 898.0,499.5" fill="none" stroke="#33474a" stroke-width="1.3"/>
<path d="M993.0,281.2 C1022.0,278.1 1045.7,335.6 1045.7,402.0 C1045.7,448.0 1027.4,482.6 1005.0,485.5" fill="none" stroke="#33474a" stroke-width="1.3"/>
<path d="M1136.4,319 C1143,340 1147,360 1147,385 C1147,420 1135,450 1113,466 C1106,470 1100,472 1095,473.0" fill="none" stroke="#33474a" stroke-width="1.3"/>
<path d="M1234.2,305.2 C1242,330 1247,352 1247,380 C1247,412 1236,440 1212,455 C1205,459 1199,460.5 1194,460.2" fill="none" stroke="#33474a" stroke-width="1.3"/>
<path d="M1269.6,268 C1290,300 1301,340 1301,372 C1301,395 1295,410 1288.6,419.8 C1282,430 1275,440 1262,447" fill="none" stroke="#33474a" stroke-width="1.3"/>
<path d="M1265,268 C1285,300 1296,340 1296,372 C1296,395 1290,410 1283.6,419.8 C1277,430 1270,440 1257,447" fill="none" stroke="#33474a" stroke-width="0.8"/>
</g>
<rect x="140.6" y="358" width="24.4" height="80" fill="url(#gPipe)"/>
<path d="M140.6,360 L140.6,437 M165,360 L165,437" stroke="#4b5e61" stroke-width="0.9"/>
<ellipse cx="153" cy="373" rx="18.5" ry="6" fill="#c6dadc" stroke="#2d3f42" stroke-width="1"/>
<rect x="140.6" y="358" width="24.4" height="15" fill="url(#gPipe)"/>
<path d="M133,356 L133,361 C133,367 173.6,367 173.6,361 L173.6,356 Z" fill="#3d4648" stroke="#1b1f20" stroke-width="1"/>
<ellipse cx="153.3" cy="356" rx="20.3" ry="7" fill="#a7b4b6" stroke="#1b1f20" stroke-width="1.1"/>
<ellipse cx="153.3" cy="356" rx="18" ry="5.6" fill="none" stroke="#1a1f20" stroke-width="2" stroke-dasharray="1.6 1.9"/>
<ellipse cx="153.3" cy="355.8" rx="13.5" ry="4" fill="#eef6f7" stroke="#4a5557" stroke-width="0.6"/>
<path d="M135,362 C131,364 131,372 136,376" stroke="#2d3f42" stroke-width="1.2" fill="none"/>
<ellipse cx="518.5" cy="338.5" rx="27.5" ry="7" fill="#c8dcde" stroke="#2d3f42" stroke-width="1.2"/>
<rect x="499" y="320" width="38.7" height="19" fill="url(#gPipe)"/>
<ellipse cx="518.3" cy="339" rx="19.35" ry="3.5" fill="#d5e7e9"/>
<ellipse cx="519.7" cy="320" rx="24.4" ry="7.6" fill="#2a3031"/>
<ellipse cx="519.7" cy="316.5" rx="24.4" ry="7" fill="#b8c9cb" stroke="#1b1f20" stroke-width="1.6" stroke-dasharray="2 2.2"/>
<ellipse cx="519.7" cy="316.5" rx="22" ry="5.6" fill="#d3e3e5" stroke="#3a4345" stroke-width="0.6"/>
<path d="M526,301 C533,299 540,300 541,306 L542,313" stroke="#9aacae" stroke-width="3.2" fill="none"/>
<path d="M526,301 C533,299 540,300 541,306 L542,313" stroke="#eef6f7" stroke-width="2" fill="none"/>
<path d="M519,316 L519,302" stroke="#3a4345" stroke-width="1" fill="none"/>
<path d="M514,302 l5,-3 l5,3 l-5,2 Z" fill="#2a3031"/>
<circle cx="519" cy="315" r="1.8" fill="#1e2324"/>
<rect x="828.2" y="283.0" width="5.5" height="17.1" fill="url(#gPipe)"/>
<path d="M828.2,283.0 L828.2,300.1 M833.8,283.0 L833.8,300.1" stroke="#5d7073" stroke-width="0.7"/>
<ellipse cx="831.0" cy="284.3" rx="7.0" ry="4.7" fill="#2a3031"/>
<ellipse cx="831.0" cy="281.7" rx="7.0" ry="3.4" fill="#25292a" stroke="#1b1f20" stroke-width="1"/>
<rect x="878.8" y="276.5" width="8.5" height="17.9" fill="url(#gPipe)"/>
<path d="M878.8,276.5 L878.8,294.4 M887.2,276.5 L887.2,294.4" stroke="#5d7073" stroke-width="0.7"/>
<ellipse cx="883.0" cy="278.0" rx="9.5" ry="5.5" fill="#2a3031"/>
<ellipse cx="883.0" cy="275.0" rx="9.5" ry="4.0" fill="#25292a" stroke="#1b1f20" stroke-width="1"/>
<rect x="907.5" y="272.5" width="3.6" height="19.0" fill="url(#gPipe)"/>
<ellipse cx="909.3" cy="273.5" rx="3.6" ry="2.6" fill="#141718"/>
<ellipse cx="906.1" cy="273.2" rx="2.2" ry="1.6" fill="#141718"/>
<ellipse cx="912.5" cy="273.2" rx="2.2" ry="1.6" fill="#141718"/>
<ellipse cx="909.3" cy="270.9" rx="2" ry="1.6" fill="#141718"/>
<ellipse cx="909.3" cy="275.5" rx="2" ry="1.6" fill="#141718"/>
<rect x="933.2" y="269.8" width="3.6" height="18.8" fill="url(#gPipe)"/>
<ellipse cx="935.0" cy="270.8" rx="3.6" ry="2.6" fill="#141718"/>
<ellipse cx="931.8" cy="270.5" rx="2.2" ry="1.6" fill="#141718"/>
<ellipse cx="938.2" cy="270.5" rx="2.2" ry="1.6" fill="#141718"/>
<ellipse cx="935.0" cy="268.2" rx="2" ry="1.6" fill="#141718"/>
<ellipse cx="935.0" cy="272.8" rx="2" ry="1.6" fill="#141718"/>
<rect x="958.9" y="267.1" width="3.6" height="18.7" fill="url(#gPipe)"/>
<ellipse cx="960.7" cy="268.1" rx="3.6" ry="2.6" fill="#141718"/>
<ellipse cx="957.5" cy="267.8" rx="2.2" ry="1.6" fill="#141718"/>
<ellipse cx="963.9" cy="267.8" rx="2.2" ry="1.6" fill="#141718"/>
<ellipse cx="960.7" cy="265.5" rx="2" ry="1.6" fill="#141718"/>
<ellipse cx="960.7" cy="270.1" rx="2" ry="1.6" fill="#141718"/>
<rect x="983.6" y="264.5" width="3.6" height="18.6" fill="url(#gPipe)"/>
<ellipse cx="985.4" cy="265.5" rx="3.6" ry="2.6" fill="#141718"/>
<ellipse cx="982.2" cy="265.2" rx="2.2" ry="1.6" fill="#141718"/>
<ellipse cx="988.6" cy="265.2" rx="2.2" ry="1.6" fill="#141718"/>
<ellipse cx="985.4" cy="262.9" rx="2" ry="1.6" fill="#141718"/>
<ellipse cx="985.4" cy="267.5" rx="2" ry="1.6" fill="#141718"/>
<ellipse cx="1133" cy="271" rx="33" ry="8.5" fill="#c3d7d9" stroke="#2d3f42" stroke-width="1.3"/>
<rect x="1110.6" y="250" width="49.1" height="21" fill="url(#gPipe)"/>
<path d="M1110.6,250 L1110.6,271 M1159.7,250 L1159.7,271" stroke="#5d7073" stroke-width="0.7"/>
<path d="M1110.6,192 L1110.6,246 L1159.7,246 L1159.7,192 Z" fill="url(#gPipe)"/>
<path d="M1110.6,192 C1110.6,170 1159.7,170 1159.7,192 Z" fill="url(#gPipe)"/>
<ellipse cx="1135" cy="181" rx="6" ry="2.5" fill="#eef8f9" filter="url(#blur1)"/>
<path d="M1110.6,192 C1120,197 1150,197 1159.7,192" fill="none" stroke="#2d3f42" stroke-width="1.4"/>
<path d="M1110.6,192 L1110.6,246 M1159.7,192 L1159.7,246" stroke="#5d7073" stroke-width="0.7"/>
<path d="M1105,246 C1105,238 1165,238 1165,246 L1165,252 C1165,262 1105,262 1105,252 Z" fill="#9aa9ab" stroke="#1f2526" stroke-width="1.2"/>
<path d="M1105,246 C1110,254 1160,254 1165,246" fill="none" stroke="#1f2526" stroke-width="1.2"/>
<path d="M1106,250 C1112,258 1158,258 1164,250" fill="none" stroke="#1f2526" stroke-width="1.6" stroke-dasharray="1.6 1.8"/>
<path d="M1106,244.5 C1112,252 1158,252 1164,244.5" fill="none" stroke="#1f2526" stroke-width="1.4" stroke-dasharray="1.6 1.8"/>
<rect x="1105" y="204.1" width="6" height="2.6" fill="#e4f0f1"/>
<ellipse cx="1103.5" cy="205.4" rx="3.4" ry="4.3" fill="#1e2324"/>
<ellipse cx="1104" cy="205.4" rx="1.2" ry="1.8" fill="#6f7a7b"/>
<rect x="1105" y="220.9" width="6" height="2.6" fill="#e4f0f1"/>
<ellipse cx="1103.5" cy="222.2" rx="3.4" ry="4.3" fill="#1e2324"/>
<ellipse cx="1104" cy="222.2" rx="1.2" ry="1.8" fill="#6f7a7b"/>
<rect x="1105" y="237.7" width="6" height="2.6" fill="#e4f0f1"/>
<ellipse cx="1103.5" cy="239.0" rx="3.4" ry="4.3" fill="#1e2324"/>
<ellipse cx="1104" cy="239.0" rx="1.2" ry="1.8" fill="#6f7a7b"/>
<rect x="1159.7" y="197.7" width="5" height="2.6" fill="#e4f0f1"/>
<ellipse cx="1165.5" cy="199.0" rx="3.4" ry="4.3" fill="#1e2324"/>
<ellipse cx="1165" cy="199.0" rx="1.2" ry="1.8" fill="#6f7a7b"/>
<rect x="1159.7" y="232.2" width="5" height="2.6" fill="#e4f0f1"/>
<ellipse cx="1165.5" cy="233.5" rx="3.4" ry="4.3" fill="#1e2324"/>
<ellipse cx="1165" cy="233.5" rx="1.2" ry="1.8" fill="#6f7a7b"/>
<rect x="1136" y="172" width="2" height="5" fill="#dbeaec"/>
<path d="M1137,166.5 l2,2.5 l3,0 l-1,3 l-4,1.5 l-4,-1.5 l-1,-3 l3,0 Z" fill="#1e2324"/>
<ellipse cx="1137" cy="170" rx="3.8" ry="2.6" fill="#1e2324"/>
<rect x="1172" y="189" width="8.5" height="51" fill="url(#gPipe)" stroke="#6d8083" stroke-width="0.6"/>
<ellipse cx="1177.5" cy="189" rx="7.5" ry="3.6" fill="#1e2324"/>
<path d="M1170,188 l1.5,-4 M1174,186 l0.5,-4 M1178,186 l0,-4 M1182,186 l0,-4 M1185,188 l-1,-4" stroke="#1e2324" stroke-width="2"/>
<ellipse cx="1175.5" cy="241.5" rx="7.5" ry="3.4" fill="#1e2324"/>
<path d="M1168,242 l1,4 M1172,244 l0,4 M1176,244 l0,4 M1180,244 l0,4 M1183,242 l-1,4" stroke="#1e2324" stroke-width="2"/>
<path d="M1183,249 C1183,239 1192,237 1195,245 L1198,259 L1186,260 Z" fill="#c9dcde" stroke="#3a4b4d" stroke-width="1"/>
<ellipse cx="1190" cy="249" rx="1.8" ry="3.2" fill="none" stroke="#3a4b4d" stroke-width="1"/>
<ellipse cx="1222" cy="258" rx="16" ry="4.5" fill="#c3d7d9" stroke="#2d3f42" stroke-width="1"/>
<rect x="1210.5" y="240" width="23" height="18" fill="url(#gPipe)"/>
<path d="M1210.5,240 L1210.5,258 M1233.5,240 L1233.5,258" stroke="#5d7073" stroke-width="0.7"/>
<path d="M1205,237 L1205,241 C1205,247 1239,247 1239,241 L1239,237 Z" fill="#4a5355" stroke="#1f2526" stroke-width="1"/>
<ellipse cx="1222" cy="237" rx="17" ry="5.5" fill="#5d6769" stroke="#1f2526" stroke-width="1.2"/>
<ellipse cx="1222" cy="237" rx="15" ry="4.4" fill="none" stroke="#1a1f20" stroke-width="1.8" stroke-dasharray="1.5 2"/>
<ellipse cx="1222" cy="236.8" rx="11" ry="3" fill="#e8f3f4"/>
<path d="M1232,274 C1232,264 1244,263 1247,271 L1250,288 L1244,290 Z" fill="#c9dcde" stroke="#3a4b4d" stroke-width="1"/>
<ellipse cx="1240" cy="276" rx="2" ry="3.8" fill="none" stroke="#3a4b4d" stroke-width="1"/>
<rect x="214.7" y="585.0" width="19.7" height="15.0" fill="url(#gPipe)"/>
<ellipse cx="224.5" cy="602.0" rx="15.0" ry="7.5" fill="#2a3031"/>
<ellipse cx="224.5" cy="599.0" rx="13.8" ry="5.0" fill="#454e50" stroke="#1b1f20" stroke-width="0.8"/>
<ellipse cx="224.5" cy="598.0" rx="9.8" ry="3.0" fill="#cfe0e2" opacity="0.9"/>
<rect x="456.0" y="553.0" width="18.0" height="14.0" fill="url(#gPipe)"/>
<ellipse cx="465.0" cy="569.0" rx="14.0" ry="7.5" fill="#2a3031"/>
<ellipse cx="465.0" cy="566.0" rx="12.9" ry="5.0" fill="#454e50" stroke="#1b1f20" stroke-width="0.8"/>
<ellipse cx="465.0" cy="565.0" rx="9.0" ry="3.0" fill="#cfe0e2" opacity="0.9"/>
<rect x="815.8" y="507.0" width="17.0" height="13.0" fill="url(#gPipe)"/>
<ellipse cx="824.3" cy="522.0" rx="13.0" ry="7.2" fill="#2a3031"/>
<ellipse cx="824.3" cy="519.0" rx="12.0" ry="4.7" fill="#454e50" stroke="#1b1f20" stroke-width="0.8"/>
<ellipse cx="824.3" cy="518.0" rx="8.5" ry="2.9" fill="#cfe0e2" opacity="0.9"/>
<rect x="1202.3" y="452.0" width="17.0" height="16.0" fill="url(#gPipe)"/>
<ellipse cx="1210.8" cy="470.0" rx="16.0" ry="8.0" fill="#2a3031"/>
<ellipse cx="1210.8" cy="467.0" rx="14.7" ry="5.4" fill="#454e50" stroke="#1b1f20" stroke-width="0.8"/>
<ellipse cx="1210.8" cy="466.0" rx="8.5" ry="3.3" fill="#cfe0e2" opacity="0.9"/>
<rect x="412.1" y="564.0" width="3.6" height="10.3" fill="url(#gPipe)"/>
<ellipse cx="413.9" cy="574.3" rx="5" ry="3.5" fill="#1e2324"/>
<rect x="1065.7" y="478.0" width="3.6" height="9.0" fill="url(#gPipe)"/>
<ellipse cx="1067.5" cy="487.0" rx="5" ry="3.5" fill="#1e2324"/>
<ellipse cx="82" cy="525" rx="12.5" ry="28" fill="#c9dcdf" stroke="#3a4b4d" stroke-width="1" transform="rotate(-8 82 525)"/>
<ellipse cx="80" cy="527" rx="6" ry="8" fill="#d4e4e6" stroke="#3a4b4d" stroke-width="0.8"/>
<ellipse cx="64" cy="528" rx="13" ry="25" fill="#a5b6b8" stroke="#202526" stroke-width="3" stroke-dasharray="1.6 1.4" transform="rotate(-8 64 528)"/>
<ellipse cx="64" cy="528" rx="11" ry="22.5" fill="#c2d0d2" stroke="#202526" stroke-width="1" transform="rotate(-8 64 528)"/>
<rect x="61" y="482" width="5" height="5" fill="none" stroke="#2d3f42" stroke-width="1"/>
<circle cx="63" cy="492" r="1.5" fill="#2d3f42"/>
<ellipse cx="185.6" cy="578.4" rx="2.8" ry="3.2" fill="#dfeef0" stroke="#3a4b4d" stroke-width="0.9"/>
<ellipse cx="584.0" cy="524.4" rx="2.8" ry="3.2" fill="#dfeef0" stroke="#3a4b4d" stroke-width="0.9"/>
<ellipse cx="906.0" cy="483.0" rx="2.8" ry="3.2" fill="#dfeef0" stroke="#3a4b4d" stroke-width="0.9"/>
<ellipse cx="1258.0" cy="438.0" rx="2.8" ry="3.2" fill="#dfeef0" stroke="#3a4b4d" stroke-width="0.9"/>
<g transform="translate(743.4 494.8) scale(1.000 1.000)">
<path d="M-62.4,31.2 L-3.6,61 L0,61 L0,14.5 C-4,18 -7,20.5 -10.9,22.5 C-16,25 -20,26 -25.4,26.8 C-32,27.8 -40,28.5 -50,29.5 Z" fill="#9db0b1"/>
</g>
<g transform="translate(743.4 494.8) scale(1.000 1.000)">
<path d="M1.4,-17.8 L25.4,-20.7 L16.6,2.9 C12,8 6,11 0,14.5 C-4,18 -7,20.5 -10.9,22.5 C-16,25 -20,26 -25.4,26.8 C-32,27.8 -40,28.5 -50,29.5 L-47,28.2 C-38,25.5 -30,24 -22,20 C-12,14 -6,6 -3,-3 C-1,-9 0,-14 1.4,-17.8 Z" fill="#bdd0d1" stroke="#243335" stroke-width="1.2" vector-effect="non-scaling-stroke"/>
</g>
<g transform="translate(743.4 494.8) scale(1.000 1.000)">
<path d="M-42,28.6 L-37,28.2 L-37,34 L-42,32 Z" fill="#e6f2f2"/>
<path d="M-45,28.8 L-45,33" stroke="#243335" stroke-width="1.2" vector-effect="non-scaling-stroke"/>
<path d="M-23.2,26.8 L-15.2,26.5 L-15.2,47 L-23.2,42.5 Z" fill="#dcebed" stroke="#243335" stroke-width="1" vector-effect="non-scaling-stroke"/>
<path d="M-12,26.5 L-12,48" stroke="#243335" stroke-width="1" vector-effect="non-scaling-stroke"/>
<path d="M-62.4,31.2 L-3.6,60.9 L0,60.4 L0,63 L-3.6,63.6 L-63.4,33 Z" fill="#434c4e" stroke="#262c2d" stroke-width="0.8" vector-effect="non-scaling-stroke"/>
<path d="M-40,45 L-25,52 M-14,54 L-8,57" stroke="#6b7677" stroke-width="1.2" vector-effect="non-scaling-stroke"/>
<circle cx="-1.5" cy="47" r="1" fill="#1b2526"/>
</g>
<g transform="translate(743.4 494.8) scale(1.000 1.000)">
<path d="M0,60.4 L19.6,57.7 L20.5,59.5 L0,63 Z" fill="#434c4e" stroke="#262c2d" stroke-width="0.8" vector-effect="non-scaling-stroke"/>
<path d="M0,0 L15.9,-1.4 L15.9,57.2 L0,58.7 Z" fill="#d3e4e6" stroke="#243335" stroke-width="1.2" vector-effect="non-scaling-stroke"/>
</g>
<g transform="translate(298.0 553.0) scale(0.880 1.030)">
<path d="M-62.4,31.2 L-3.6,61 L0,61 L0,14.5 C-4,18 -7,20.5 -10.9,22.5 C-16,25 -20,26 -25.4,26.8 C-32,27.8 -40,28.5 -50,29.5 Z" fill="#9db0b1"/>
</g>
<g transform="translate(298.0 553.0) scale(1.070 1.030)">
<path d="M1.4,-17.8 L25.4,-20.7 L16.6,2.9 C12,8 6,11 0,14.5 C-4,18 -7,20.5 -10.9,22.5 C-16,25 -20,26 -25.4,26.8 C-32,27.8 -40,28.5 -50,29.5 L-47,28.2 C-38,25.5 -30,24 -22,20 C-12,14 -6,6 -3,-3 C-1,-9 0,-14 1.4,-17.8 Z" fill="#bdd0d1" stroke="#243335" stroke-width="1.2" vector-effect="non-scaling-stroke"/>
</g>
<g transform="translate(298.0 553.0) scale(0.880 1.030)">
<path d="M-42,28.6 L-37,28.2 L-37,34 L-42,32 Z" fill="#e6f2f2"/>
<path d="M-45,28.8 L-45,33" stroke="#243335" stroke-width="1.2" vector-effect="non-scaling-stroke"/>
<path d="M-23.2,26.8 L-15.2,26.5 L-15.2,47 L-23.2,42.5 Z" fill="#dcebed" stroke="#243335" stroke-width="1" vector-effect="non-scaling-stroke"/>
<path d="M-12,26.5 L-12,48" stroke="#243335" stroke-width="1" vector-effect="non-scaling-stroke"/>
<path d="M-62.4,31.2 L-3.6,60.9 L0,60.4 L0,63 L-3.6,63.6 L-63.4,33 Z" fill="#434c4e" stroke="#262c2d" stroke-width="0.8" vector-effect="non-scaling-stroke"/>
<path d="M-40,45 L-25,52 M-14,54 L-8,57" stroke="#6b7677" stroke-width="1.2" vector-effect="non-scaling-stroke"/>
<circle cx="-1.5" cy="47" r="1" fill="#1b2526"/>
</g>
<g transform="translate(298.0 553.0) scale(1.070 1.030)">
<path d="M0,60.4 L19.6,57.7 L20.5,59.5 L0,63 Z" fill="#434c4e" stroke="#262c2d" stroke-width="0.8" vector-effect="non-scaling-stroke"/>
<path d="M0,0 L15.9,-1.4 L15.9,57.2 L0,58.7 Z" fill="#d3e4e6" stroke="#243335" stroke-width="1.2" vector-effect="non-scaling-stroke"/>
</g>
<g transform="translate(1158.0 441.6) scale(0.980 0.940)">
<path d="M-62.4,31.2 L-3.6,61 L0,61 L0,14.5 C-4,18 -7,20.5 -10.9,22.5 C-16,25 -20,26 -25.4,26.8 C-32,27.8 -40,28.5 -50,29.5 Z" fill="#9db0b1"/>
</g>
<g transform="translate(1158.0 441.6) scale(0.800 0.940)">
<path d="M1.4,-17.8 L25.4,-20.7 L16.6,2.9 C12,8 6,11 0,14.5 C-4,18 -7,20.5 -10.9,22.5 C-16,25 -20,26 -25.4,26.8 C-32,27.8 -40,28.5 -50,29.5 L-47,28.2 C-38,25.5 -30,24 -22,20 C-12,14 -6,6 -3,-3 C-1,-9 0,-14 1.4,-17.8 Z" fill="#bdd0d1" stroke="#243335" stroke-width="1.2" vector-effect="non-scaling-stroke"/>
</g>
<g transform="translate(1158.0 441.6) scale(0.980 0.940)">
<path d="M-42,28.6 L-37,28.2 L-37,34 L-42,32 Z" fill="#e6f2f2"/>
<path d="M-45,28.8 L-45,33" stroke="#243335" stroke-width="1.2" vector-effect="non-scaling-stroke"/>
<path d="M-23.2,26.8 L-15.2,26.5 L-15.2,47 L-23.2,42.5 Z" fill="#dcebed" stroke="#243335" stroke-width="1" vector-effect="non-scaling-stroke"/>
<path d="M-12,26.5 L-12,48" stroke="#243335" stroke-width="1" vector-effect="non-scaling-stroke"/>
<path d="M-62.4,31.2 L-3.6,60.9 L0,60.4 L0,63 L-3.6,63.6 L-63.4,33 Z" fill="#434c4e" stroke="#262c2d" stroke-width="0.8" vector-effect="non-scaling-stroke"/>
<path d="M-40,45 L-25,52 M-14,54 L-8,57" stroke="#6b7677" stroke-width="1.2" vector-effect="non-scaling-stroke"/>
<circle cx="-1.5" cy="47" r="1" fill="#1b2526"/>
</g>
<g transform="translate(1158.0 441.6) scale(0.800 0.940)">
<path d="M0,60.4 L19.6,57.7 L20.5,59.5 L0,63 Z" fill="#434c4e" stroke="#262c2d" stroke-width="0.8" vector-effect="non-scaling-stroke"/>
<path d="M0,0 L15.9,-1.4 L15.9,57.2 L0,58.7 Z" fill="#d3e4e6" stroke="#243335" stroke-width="1.2" vector-effect="non-scaling-stroke"/>
</g>
<path d="M1363.2,88.0 L2030.0,88.0 M1363.2,121.4 L2030.0,121.4 M1363.2,154.8 L2030.0,154.8 M1363.2,188.2 L2030.0,188.2 M1363.2,221.6 L2030.0,221.6 M1363.2,255.0 L2030.0,255.0 M1363.2,288.4 L2030.0,288.4 M1363.2,321.8 L2030.0,321.8 M1363.2,355.2 L2030.0,355.2 M1363.2,388.6 L2030.0,388.6 M1363.2,422.0 L2030.0,422.0 M1363.2,455.4 L2030.0,455.4 M1363.2,488.8 L2030.0,488.8 M1363.2,522.2 L2030.0,522.2 M1363.2,555.6 L2030.0,555.6 M1363.2,589.0 L2030.0,589.0 M1363.2,88.0 L1363.2,589.0 M1501.5,88.0 L1501.5,589.0 M1879.0,88.0 L1879.0,589.0" stroke="#d8d8d8" stroke-width="1.35" fill="none"/>
<text x="1592.5" y="65.8" font-size="22" fill="#000" textLength="159.0" lengthAdjust="spacingAndGlyphs">Таблица штуцеров</text>
<text x="1377.3" y="112.3" font-size="22" fill="#000" textLength="104.9" lengthAdjust="spacingAndGlyphs">Обозначение</text>
<text x="1630.5" y="112.3" font-size="22" fill="#000" textLength="116.5" lengthAdjust="spacingAndGlyphs">Наименование</text>
<text x="1924.3" y="112.3" font-size="22" fill="#000" textLength="58.7" lengthAdjust="spacingAndGlyphs">Кол–во</text>
<text x="1420.2" y="145.5" font-size="22" fill="#000" textLength="20.6" lengthAdjust="spacingAndGlyphs">А1</text>
<text x="1503.2" y="145.5" font-size="22" fill="#000" textLength="86.5" lengthAdjust="spacingAndGlyphs">Вход воды</text>
<text x="1950.0" y="145.5" font-size="22" fill="#000" textLength="7.5" lengthAdjust="spacingAndGlyphs">1</text>
<text x="1419.6" y="178.9" font-size="22" fill="#000" textLength="20.7" lengthAdjust="spacingAndGlyphs">Б1</text>
<text x="1503.2" y="178.9" font-size="22" fill="#000" textLength="97.3" lengthAdjust="spacingAndGlyphs">Выход воды</text>
<text x="1950.0" y="178.9" font-size="22" fill="#000" textLength="7.5" lengthAdjust="spacingAndGlyphs">1</text>
<text x="1419.6" y="212.3" font-size="22" fill="#000" textLength="20.7" lengthAdjust="spacingAndGlyphs">В1</text>
<text x="1503.2" y="212.3" font-size="22" fill="#000" textLength="112.6" lengthAdjust="spacingAndGlyphs">Выход нефти</text>
<text x="1950.0" y="212.3" font-size="22" fill="#000" textLength="7.5" lengthAdjust="spacingAndGlyphs">1</text>
<text x="1376.3" y="245.7" font-size="22" fill="#000" textLength="108.3" lengthAdjust="spacingAndGlyphs">Г1, Г2, Г3, Г4</text>
<text x="1503.2" y="245.7" font-size="22" fill="#000" textLength="138.6" lengthAdjust="spacingAndGlyphs">Выгрузка шлама</text>
<text x="1948.7" y="245.7" font-size="22" fill="#000" textLength="9.6" lengthAdjust="spacingAndGlyphs">4</text>
<text x="1419.6" y="279.1" font-size="22" fill="#000" textLength="21.7" lengthAdjust="spacingAndGlyphs">Д1</text>
<text x="1503.2" y="279.1" font-size="22" fill="#000" textLength="305.9" lengthAdjust="spacingAndGlyphs">Для  установки регулятора уровня</text>
<text x="1950.0" y="279.1" font-size="22" fill="#000" textLength="7.5" lengthAdjust="spacingAndGlyphs">1</text>
<text x="1390.6" y="312.5" font-size="22" fill="#000" textLength="78.7" lengthAdjust="spacingAndGlyphs">Е1, Е2, Е3</text>
<text x="1503.2" y="312.5" font-size="22" fill="#000" textLength="146.0" lengthAdjust="spacingAndGlyphs">Для отбора проб</text>
<text x="1948.7" y="312.5" font-size="22" fill="#000" textLength="9.6" lengthAdjust="spacingAndGlyphs">3</text>
<text x="1401.8" y="345.9" font-size="22" fill="#000" textLength="56.6" lengthAdjust="spacingAndGlyphs">Ж1, Ж2</text>
<text x="1503.2" y="345.9" font-size="22" fill="#000" textLength="67.7" lengthAdjust="spacingAndGlyphs">Люк лаз</text>
<text x="1948.7" y="345.9" font-size="22" fill="#000" textLength="9.6" lengthAdjust="spacingAndGlyphs">2</text>
<text x="1419.6" y="379.3" font-size="22" fill="#000" textLength="20.7" lengthAdjust="spacingAndGlyphs">З1</text>
<text x="1503.2" y="379.3" font-size="22" fill="#000" textLength="144.0" lengthAdjust="spacingAndGlyphs">Для термометра</text>
<text x="1950.0" y="379.3" font-size="22" fill="#000" textLength="7.5" lengthAdjust="spacingAndGlyphs">1</text>
<text x="1403.5" y="412.7" font-size="22" fill="#000" textLength="52.2" lengthAdjust="spacingAndGlyphs">И1, И2</text>
<text x="1503.2" y="412.7" font-size="22" fill="#000" textLength="130.4" lengthAdjust="spacingAndGlyphs">Для манометра</text>
<text x="1948.7" y="412.7" font-size="22" fill="#000" textLength="9.6" lengthAdjust="spacingAndGlyphs">2</text>
<text x="1419.6" y="446.1" font-size="22" fill="#000" textLength="20.7" lengthAdjust="spacingAndGlyphs">К1</text>
<text x="1503.2" y="446.1" font-size="22" fill="#000" textLength="288.2" lengthAdjust="spacingAndGlyphs">Для предохранительного клапана</text>
<text x="1950.0" y="446.1" font-size="22" fill="#000" textLength="7.5" lengthAdjust="spacingAndGlyphs">1</text>
<text x="1418.9" y="479.5" font-size="22" fill="#000" textLength="22.4" lengthAdjust="spacingAndGlyphs">М1</text>
<text x="1503.2" y="479.5" font-size="22" fill="#000" textLength="139.2" lengthAdjust="spacingAndGlyphs">Для вентиляции</text>
<text x="1950.0" y="479.5" font-size="22" fill="#000" textLength="7.5" lengthAdjust="spacingAndGlyphs">1</text>
<text x="1403.5" y="512.9" font-size="22" fill="#000" textLength="52.8" lengthAdjust="spacingAndGlyphs">Л1, Л2</text>
<text x="1503.2" y="512.9" font-size="22" fill="#000" textLength="115.4" lengthAdjust="spacingAndGlyphs">Для пропарки</text>
<text x="1948.7" y="512.9" font-size="22" fill="#000" textLength="9.6" lengthAdjust="spacingAndGlyphs">2</text>
<text x="1419.6" y="546.3" font-size="22" fill="#000" textLength="20.7" lengthAdjust="spacingAndGlyphs">Н1</text>
<text x="1503.2" y="546.3" font-size="22" fill="#000" textLength="230.9" lengthAdjust="spacingAndGlyphs">Для сигнализатора уровня</text>
<text x="1950.0" y="546.3" font-size="22" fill="#000" textLength="7.5" lengthAdjust="spacingAndGlyphs">1</text>
<text x="1419.6" y="579.7" font-size="22" fill="#000" textLength="20.7" lengthAdjust="spacingAndGlyphs">О1</text>
<text x="1503.2" y="579.7" font-size="22" fill="#000" textLength="237.7" lengthAdjust="spacingAndGlyphs">Для термопреобразователя</text>
<text x="1950.0" y="579.7" font-size="22" fill="#000" textLength="7.5" lengthAdjust="spacingAndGlyphs">1</text>
<path d="M164.5,1005.5 L1499.5,1005.5 M164.5,1221.3 L1499.5,1221.3" stroke="#5a5a5a" stroke-width="1.4"/>
<path d="M164.5,1006.7 L1499.5,1006.7 M164.5,1222.5 L1499.5,1222.5" stroke="#6a6a6a" stroke-width="1.2" stroke-dasharray="1 3.2"/>
<path d="M164.5,1005.5 A52.7,108 0 0 0 164.5,1221.3" fill="none" stroke="#4a4a4a" stroke-width="1.1"/>
<path d="M1499.5,1005.5 A57.5,108 0 0 1 1499.5,1221.3" fill="none" stroke="#4a4a4a" stroke-width="1.1"/>
<line x1="100.0" y1="1113.5" x2="1570.0" y2="1113.5" stroke="#6a6a6a" stroke-width="0.9"/>
<line x1="170.7" y1="1005.5" x2="170.7" y2="1221.3" stroke="#555" stroke-width="1.0"/>
<line x1="258.3" y1="1005.5" x2="258.3" y2="1221.3" stroke="#555" stroke-width="1.0"/>
<line x1="384.8" y1="1005.5" x2="384.8" y2="1221.3" stroke="#555" stroke-width="1.0"/>
<line x1="512.4" y1="1005.5" x2="512.4" y2="1221.3" stroke="#555" stroke-width="1.0"/>
<line x1="577.4" y1="1005.5" x2="577.4" y2="1221.3" stroke="#555" stroke-width="1.0"/>
<line x1="672.5" y1="1005.5" x2="672.5" y2="1221.3" stroke="#555" stroke-width="1.0"/>
<line x1="799.4" y1="1005.5" x2="799.4" y2="1221.3" stroke="#555" stroke-width="1.0"/>
<line x1="926.0" y1="1005.5" x2="926.0" y2="1221.3" stroke="#555" stroke-width="1.0"/>
<line x1="1052.0" y1="1005.5" x2="1052.0" y2="1221.3" stroke="#555" stroke-width="1.0"/>
<line x1="1179.0" y1="1005.5" x2="1179.0" y2="1221.3" stroke="#555" stroke-width="1.0"/>
<line x1="1305.5" y1="1005.5" x2="1305.5" y2="1221.3" stroke="#555" stroke-width="1.0"/>
<line x1="1431.4" y1="1005.5" x2="1431.4" y2="1221.3" stroke="#555" stroke-width="1.0"/>
<line x1="1499.5" y1="1005.5" x2="1499.5" y2="1221.3" stroke="#555" stroke-width="1.0"/>
<rect x="192.8" y="988.9" width="27.6" height="16.6" stroke="#4a4a4a" stroke-width="1" fill="none"/>
<rect x="188.8" y="980.8" width="35.9" height="8.1" stroke="#4a4a4a" stroke-width="1.1" fill="none"/>
<line x1="191.8" y1="984.8" x2="221.7" y2="984.8" stroke="#777" stroke-width="0.8" stroke-dasharray="2 1.5"/>
<circle cx="188.8" cy="984.8" r="1.8" fill="#444"/>
<circle cx="224.7" cy="984.8" r="1.8" fill="#444"/>
<line x1="160.4" y1="984.9" x2="188.8" y2="984.9" stroke="#555" stroke-width="1.6"/>
<path d="M236.5,1026.8 L236.1,1028.1 L235.1,1029.4 L233.9,1030.5 L232.9,1031.6 L232.6,1032.7 L232.8,1034.1 L233.4,1035.6 L233.8,1037.2 L233.6,1038.6 L232.8,1039.7 L231.4,1040.5 L229.8,1040.9 L228.4,1041.4 L227.4,1042.1 L226.9,1043.3 L226.7,1044.9 L226.4,1046.5 L225.7,1047.9 L224.6,1048.6 L223.1,1048.7 L221.4,1048.4 L219.9,1048.1 L218.6,1048.2 L217.6,1048.9 L216.6,1050.1 L215.6,1051.4 L214.5,1052.4 L213.1,1052.7 L211.7,1052.3 L210.4,1051.3 L209.2,1050.3 L208.0,1049.6 L206.8,1049.6 L205.4,1050.1 L204.0,1050.9 L202.4,1051.3 L201.0,1051.2 L200.0,1050.3 L199.2,1048.9 L198.6,1047.3 L197.9,1046.1 L196.9,1045.4 L195.5,1045.2 L193.9,1045.1 L192.3,1044.9 L191.0,1044.3 L190.3,1043.1 L190.2,1041.5 L190.3,1039.8 L190.4,1038.4 L190.0,1037.2 L189.0,1036.3 L187.6,1035.6 L186.2,1034.7 L185.2,1033.5 L185.0,1032.2 L185.5,1030.7 L186.4,1029.3 L187.2,1028.0 L187.5,1026.8 L187.2,1025.6 L186.4,1024.3 L185.5,1022.9 L185.0,1021.4 L185.2,1020.1 L186.2,1018.9 L187.6,1018.0 L189.0,1017.3 L190.0,1016.4 L190.4,1015.2 L190.3,1013.8 L190.2,1012.1 L190.3,1010.5 L191.0,1009.3 L192.3,1008.7 L193.9,1008.5 L195.5,1008.4 L196.9,1008.2 L197.9,1007.5 L198.6,1006.3 L199.2,1004.7 L200.0,1003.3 L201.0,1002.4 L202.4,1002.3 L204.0,1002.7 L205.4,1003.5 L206.8,1004.0 L208.0,1004.0 L209.2,1003.3 L210.4,1002.3 L211.7,1001.3 L213.1,1000.9 L214.5,1001.2 L215.6,1002.2 L216.6,1003.5 L217.6,1004.7 L218.6,1005.4 L219.9,1005.5 L221.4,1005.2 L223.1,1004.9 L224.6,1005.0 L225.7,1005.7 L226.4,1007.1 L226.7,1008.7 L226.9,1010.3 L227.4,1011.5 L228.4,1012.2 L229.8,1012.7 L231.4,1013.1 L232.8,1013.9 L233.6,1015.0 L233.8,1016.4 L233.4,1018.0 L232.8,1019.5 L232.6,1020.9 L232.9,1022.0 L233.9,1023.1 L235.1,1024.2 L236.1,1025.5 Z" fill="#fff" stroke="#4a4a4a" stroke-width="1"/>
<rect x="205.0" y="1013.0" width="11.0" height="14.0" stroke="#555" stroke-width="1" fill="none"/>
<line x1="205.8" y1="905.0" x2="205.8" y2="1040.0" stroke="#777" stroke-width="0.8"/>
<path d="M192.8,1050 L192.8,1156 L209,1177 L220.4,1166 L220.4,1050" fill="none" stroke="#4a4a4a" stroke-width="1"/>
<line x1="192.8" y1="1156.0" x2="220.4" y2="1166.0" stroke="#666" stroke-width="0.8"/>
<line x1="205.8" y1="1050.0" x2="205.8" y2="1170.0" stroke="#999" stroke-width="0.7"/>
<line x1="198.0" y1="1118.0" x2="218.0" y2="1118.0" stroke="#555" stroke-width="0.8"/>
<rect x="205.8" y="887.6" width="21.6" height="17.5" fill="#fff" stroke="#9a9a9a" stroke-width="1"/>
<text x="216.6" y="900.5" font-size="11.5" fill="#2a2a2a" text-anchor="middle" textLength="12.1" lengthAdjust="spacingAndGlyphs">А1</text>
<path d="M110,1100 C115,1120 118,1140 121,1162" fill="none" stroke="#4a4a4a" stroke-width="1"/>
<rect x="92.8" y="1116.0" width="10.8" height="46.0" stroke="#333" stroke-width="1.3" fill="#fff"/>
<line x1="91.5" y1="1118.0" x2="105.0" y2="1118.0" stroke="#222" stroke-width="1.6" stroke-dasharray="1.5 1.5"/>
<line x1="91.5" y1="1123.0" x2="105.0" y2="1123.0" stroke="#222" stroke-width="1.6" stroke-dasharray="1.5 1.5"/>
<line x1="91.5" y1="1128.0" x2="105.0" y2="1128.0" stroke="#222" stroke-width="1.6" stroke-dasharray="1.5 1.5"/>
<line x1="91.5" y1="1133.0" x2="105.0" y2="1133.0" stroke="#222" stroke-width="1.6" stroke-dasharray="1.5 1.5"/>
<line x1="91.5" y1="1138.0" x2="105.0" y2="1138.0" stroke="#222" stroke-width="1.6" stroke-dasharray="1.5 1.5"/>
<line x1="91.5" y1="1143.0" x2="105.0" y2="1143.0" stroke="#222" stroke-width="1.6" stroke-dasharray="1.5 1.5"/>
<line x1="91.5" y1="1148.0" x2="105.0" y2="1148.0" stroke="#222" stroke-width="1.6" stroke-dasharray="1.5 1.5"/>
<line x1="91.5" y1="1153.0" x2="105.0" y2="1153.0" stroke="#222" stroke-width="1.6" stroke-dasharray="1.5 1.5"/>
<line x1="91.5" y1="1158.0" x2="105.0" y2="1158.0" stroke="#222" stroke-width="1.6" stroke-dasharray="1.5 1.5"/>
<rect x="103.6" y="1118.0" width="6.0" height="42.0" stroke="#4a4a4a" stroke-width="1" fill="none"/>
<path d="M98,1103 L98,1116 M95,1106 L101,1106 M98,1100 L96,1104 L100,1104 Z" stroke="#333" stroke-width="1" fill="#333"/>
<rect x="106.0" y="1103.0" width="5.0" height="7.0" stroke="#4a4a4a" stroke-width="0.9" fill="none"/>
<line x1="88.8" y1="1138.9" x2="125.0" y2="1138.9" stroke="#777" stroke-width="0.8"/>
<rect x="67.2" y="1121.4" width="21.6" height="17.5" fill="#fff" stroke="#9a9a9a" stroke-width="1"/>
<text x="78.0" y="1134.2" font-size="11.5" fill="#2a2a2a" text-anchor="middle" textLength="12.1" lengthAdjust="spacingAndGlyphs">Ж1</text>
<path d="M309.5,1006 L322.5,1006 L319,1040 L319,1187 L322.5,1219 L309.5,1219 Z" fill="none" stroke="#4a4a4a" stroke-width="1"/>
<rect x="311.0" y="1040.0" width="6.5" height="147.0" stroke="#333" stroke-width="1" fill="#bbb"/>
<line x1="314.2" y1="1040.0" x2="314.2" y2="1187.0" stroke="#555" stroke-width="0.8"/>
<line x1="309.5" y1="1040.0" x2="319.0" y2="1040.0" stroke="#333" stroke-width="1.4"/>
<line x1="309.5" y1="1187.0" x2="319.0" y2="1187.0" stroke="#333" stroke-width="1.4"/>
<rect x="311.0" y="1222.0" width="20.0" height="10.0" stroke="#4a4a4a" stroke-width="1" fill="none"/>
<line x1="305.0" y1="1232.0" x2="335.0" y2="1232.0" stroke="#333" stroke-width="1.6"/>
<path d="M323,1222 L323,1232" stroke="#333" stroke-width="1.4"/>
<rect x="353.0" y="1014.0" width="6.4" height="200.0" stroke="#4a4a4a" stroke-width="1" fill="none"/>
<rect x="354.0" y="1016.0" width="4.0" height="8.0" stroke="#4a4a4a" stroke-width="0.8" fill="none"/>
<rect x="354.0" y="1150.0" width="4.0" height="10.0" stroke="#4a4a4a" stroke-width="0.8" fill="none"/>
<rect x="524.5" y="1010.7" width="4.7" height="206.0" stroke="#4a4a4a" stroke-width="1" fill="none"/>
<circle cx="529.5" cy="1014.0" r="1.4" fill="#333"/>
<circle cx="529.5" cy="1043.5" r="1.4" fill="#333"/>
<circle cx="529.5" cy="1073.0" r="1.4" fill="#333"/>
<circle cx="529.5" cy="1102.5" r="1.4" fill="#333"/>
<circle cx="529.5" cy="1132.0" r="1.4" fill="#333"/>
<circle cx="529.5" cy="1161.5" r="1.4" fill="#333"/>
<circle cx="529.5" cy="1191.0" r="1.4" fill="#333"/>
<circle cx="529.5" cy="1220.5" r="1.4" fill="#333"/>
<rect x="591.0" y="990.0" width="41.4" height="21.7" stroke="#4a4a4a" stroke-width="1" fill="none"/>
<rect x="588.0" y="982.0" width="49.0" height="8.0" stroke="#4a4a4a" stroke-width="1.1" fill="none"/>
<circle cx="590" cy="986" r="1.2" fill="#444"/>
<circle cx="595" cy="986" r="1.2" fill="#444"/>
<circle cx="600" cy="986" r="1.2" fill="#444"/>
<circle cx="605" cy="986" r="1.2" fill="#444"/>
<circle cx="610" cy="986" r="1.2" fill="#444"/>
<circle cx="615" cy="986" r="1.2" fill="#444"/>
<circle cx="620" cy="986" r="1.2" fill="#444"/>
<circle cx="625" cy="986" r="1.2" fill="#444"/>
<circle cx="630" cy="986" r="1.2" fill="#444"/>
<circle cx="635" cy="986" r="1.2" fill="#444"/>
<path d="M603,972 L611,966 L619,972 M611,966 L611,982 M611,970 L626,970 C631,970 633,974 633,980 L633,990" fill="none" stroke="#444" stroke-width="1.1"/>
<rect x="631" y="980" width="4" height="10" fill="none" stroke="#444" stroke-width="1"/>
<line x1="600.6" y1="1011.7" x2="600.6" y2="1075.8" stroke="#4a4a4a" stroke-width="1.1"/>
<line x1="622.8" y1="1011.7" x2="622.8" y2="1075.8" stroke="#4a4a4a" stroke-width="1.1"/>
<line x1="600.6" y1="1014.5" x2="622.8" y2="1014.5" stroke="#4a4a4a" stroke-width="1"/>
<line x1="600.6" y1="1027.0" x2="622.8" y2="1027.0" stroke="#4a4a4a" stroke-width="1"/>
<line x1="600.6" y1="1040.0" x2="622.8" y2="1040.0" stroke="#4a4a4a" stroke-width="1"/>
<line x1="600.6" y1="1052.7" x2="622.8" y2="1052.7" stroke="#4a4a4a" stroke-width="1"/>
<line x1="600.6" y1="1064.0" x2="622.8" y2="1064.0" stroke="#4a4a4a" stroke-width="1"/>
<line x1="611.0" y1="910.0" x2="611.0" y2="985.0" stroke="#888" stroke-width="0.8"/>
<rect x="587.0" y="892.4" width="24.0" height="17.7" fill="#fff" stroke="#9a9a9a" stroke-width="1"/>
<text x="599.0" y="905.4" font-size="11.5" fill="#2a2a2a" text-anchor="middle" textLength="13.4" lengthAdjust="spacingAndGlyphs">Ж2</text>
<rect x="716.8" y="1005.6" width="22.6" height="184.0" stroke="#333" stroke-width="1.1" fill="none"/>
<g stroke="#777" stroke-width="0.7">
<line x1="720" y1="1014.0" x2="736" y2="1008.0"/>
<line x1="720" y1="1017.1" x2="736" y2="1011.1"/>
<line x1="720" y1="1020.2" x2="736" y2="1014.2"/>
<line x1="720" y1="1023.3" x2="736" y2="1017.3"/>
<line x1="720" y1="1026.4" x2="736" y2="1020.4"/>
<line x1="720" y1="1029.5" x2="736" y2="1023.5"/>
<line x1="720" y1="1032.6" x2="736" y2="1026.6"/>
<line x1="720" y1="1035.7" x2="736" y2="1029.7"/>
<line x1="720" y1="1038.8" x2="736" y2="1032.8"/>
<line x1="720" y1="1041.9" x2="736" y2="1035.9"/>
<line x1="720" y1="1045.0" x2="736" y2="1039.0"/>
<line x1="720" y1="1048.1" x2="736" y2="1042.1"/>
<line x1="720" y1="1051.2" x2="736" y2="1045.2"/>
<line x1="720" y1="1054.3" x2="736" y2="1048.3"/>
<line x1="720" y1="1057.4" x2="736" y2="1051.4"/>
<line x1="720" y1="1060.5" x2="736" y2="1054.5"/>
<line x1="720" y1="1063.6" x2="736" y2="1057.6"/>
<line x1="720" y1="1066.7" x2="736" y2="1060.7"/>
<line x1="720" y1="1069.8" x2="736" y2="1063.8"/>
<line x1="720" y1="1072.9" x2="736" y2="1066.9"/>
<line x1="720" y1="1076.0" x2="736" y2="1070.0"/>
<line x1="720" y1="1079.1" x2="736" y2="1073.1"/>
<line x1="720" y1="1082.2" x2="736" y2="1076.2"/>
<line x1="720" y1="1085.3" x2="736" y2="1079.3"/>
<line x1="720" y1="1088.4" x2="736" y2="1082.4"/>
<line x1="720" y1="1091.5" x2="736" y2="1085.5"/>
<line x1="720" y1="1094.6" x2="736" y2="1088.6"/>
<line x1="720" y1="1097.7" x2="736" y2="1091.7"/>
<line x1="720" y1="1100.8" x2="736" y2="1094.8"/>
<line x1="720" y1="1103.9" x2="736" y2="1097.9"/>
<line x1="720" y1="1107.0" x2="736" y2="1101.0"/>
<line x1="720" y1="1110.1" x2="736" y2="1104.1"/>
<line x1="720" y1="1113.2" x2="736" y2="1107.2"/>
<line x1="720" y1="1116.3" x2="736" y2="1110.3"/>
<line x1="720" y1="1119.4" x2="736" y2="1113.4"/>
<line x1="720" y1="1122.5" x2="736" y2="1116.5"/>
<line x1="720" y1="1125.6" x2="736" y2="1119.6"/>
<line x1="720" y1="1128.7" x2="736" y2="1122.7"/>
<line x1="720" y1="1131.8" x2="736" y2="1125.8"/>
<line x1="720" y1="1134.9" x2="736" y2="1128.9"/>
<line x1="720" y1="1138.0" x2="736" y2="1132.0"/>
<line x1="720" y1="1141.1" x2="736" y2="1135.1"/>
<line x1="720" y1="1144.2" x2="736" y2="1138.2"/>
<line x1="720" y1="1147.3" x2="736" y2="1141.3"/>
<line x1="720" y1="1150.4" x2="736" y2="1144.4"/>
<line x1="720" y1="1153.5" x2="736" y2="1147.5"/>
<line x1="720" y1="1156.6" x2="736" y2="1150.6"/>
<line x1="720" y1="1159.7" x2="736" y2="1153.7"/>
<line x1="720" y1="1162.8" x2="736" y2="1156.8"/>
<line x1="720" y1="1165.9" x2="736" y2="1159.9"/>
<line x1="720" y1="1169.0" x2="736" y2="1163.0"/>
<line x1="720" y1="1172.1" x2="736" y2="1166.1"/>
<line x1="720" y1="1175.2" x2="736" y2="1169.2"/>
<line x1="720" y1="1178.3" x2="736" y2="1172.3"/>
<line x1="720" y1="1181.4" x2="736" y2="1175.4"/>
<line x1="720" y1="1184.5" x2="736" y2="1178.5"/>
<line x1="720" y1="1187.6" x2="736" y2="1181.6"/>
</g>
<line x1="715.0" y1="1019.7" x2="741.0" y2="1019.7" stroke="#222" stroke-width="1.7"/>
<circle cx="719" cy="1019.7" r="2" fill="#222"/><circle cx="737" cy="1019.7" r="2" fill="#222"/>
<line x1="715.0" y1="1038.5" x2="741.0" y2="1038.5" stroke="#222" stroke-width="1.7"/>
<circle cx="719" cy="1038.5" r="2" fill="#222"/><circle cx="737" cy="1038.5" r="2" fill="#222"/>
<line x1="715.0" y1="1057.3" x2="741.0" y2="1057.3" stroke="#222" stroke-width="1.7"/>
<circle cx="719" cy="1057.3" r="2" fill="#222"/><circle cx="737" cy="1057.3" r="2" fill="#222"/>
<line x1="715.0" y1="1076.1" x2="741.0" y2="1076.1" stroke="#222" stroke-width="1.7"/>
<circle cx="719" cy="1076.1" r="2" fill="#222"/><circle cx="737" cy="1076.1" r="2" fill="#222"/>
<line x1="715.0" y1="1094.9" x2="741.0" y2="1094.9" stroke="#222" stroke-width="1.7"/>
<circle cx="719" cy="1094.9" r="2" fill="#222"/><circle cx="737" cy="1094.9" r="2" fill="#222"/>
<line x1="715.0" y1="1113.7" x2="741.0" y2="1113.7" stroke="#222" stroke-width="1.7"/>
<circle cx="719" cy="1113.7" r="2" fill="#222"/><circle cx="737" cy="1113.7" r="2" fill="#222"/>
<line x1="715.0" y1="1132.5" x2="741.0" y2="1132.5" stroke="#222" stroke-width="1.7"/>
<circle cx="719" cy="1132.5" r="2" fill="#222"/><circle cx="737" cy="1132.5" r="2" fill="#222"/>
<line x1="715.0" y1="1151.3" x2="741.0" y2="1151.3" stroke="#222" stroke-width="1.7"/>
<circle cx="719" cy="1151.3" r="2" fill="#222"/><circle cx="737" cy="1151.3" r="2" fill="#222"/>
<line x1="715.0" y1="1170.1" x2="741.0" y2="1170.1" stroke="#222" stroke-width="1.7"/>
<circle cx="719" cy="1170.1" r="2" fill="#222"/><circle cx="737" cy="1170.1" r="2" fill="#222"/>
<line x1="722.0" y1="1189.6" x2="722.0" y2="1214.0" stroke="#666" stroke-width="0.8" stroke-dasharray="3 2"/>
<line x1="734.0" y1="1189.6" x2="734.0" y2="1214.0" stroke="#666" stroke-width="0.8" stroke-dasharray="3 2"/>
<rect x="830.2" y="1012.4" width="7.3" height="202.0" stroke="#4a4a4a" stroke-width="1" fill="none"/>
<line x1="833.8" y1="1004.0" x2="833.8" y2="1012.0" stroke="#777" stroke-width="0.8"/>
<rect x="822.0" y="1222.0" width="25.0" height="13.0" stroke="#4a4a4a" stroke-width="1" fill="none"/>
<line x1="818.0" y1="1235.5" x2="849.0" y2="1235.5" stroke="#333" stroke-width="1.6"/>
<line x1="834.0" y1="1222.0" x2="834.0" y2="1235.0" stroke="#333" stroke-width="1.4"/>
<path d="M818,1104 L826,1104 M822,1100 L822,1108" stroke="#777" stroke-width="0.8"/>
<rect x="1337.3" y="1018.8" width="7.1" height="195.6" stroke="#4a4a4a" stroke-width="1" fill="none"/>
<rect x="1335.0" y="1055.0" width="3.0" height="10.0" stroke="#4a4a4a" stroke-width="0.8" fill="none"/>
<rect x="1338.0" y="1200.0" width="4.0" height="8.0" stroke="#4a4a4a" stroke-width="0.8" fill="none"/>
<rect x="1331.6" y="1222.0" width="18.4" height="14.0" stroke="#4a4a4a" stroke-width="1" fill="none"/>
<line x1="1331.6" y1="1222.0" x2="1350.0" y2="1236.0" stroke="#666" stroke-width="0.7"/>
<line x1="1350.0" y1="1222.0" x2="1331.6" y2="1236.0" stroke="#666" stroke-width="0.7"/>
<circle cx="1340.8" cy="1229" r="1.8" fill="#222"/>
<rect x="274.5" y="1221.3" width="18.9" height="16.3" stroke="#4a4a4a" stroke-width="1" fill="none"/>
<rect x="270.0" y="1237.6" width="27.9" height="9.4" stroke="#4a4a4a" stroke-width="1.1" fill="none"/>
<line x1="273.0" y1="1242.3" x2="294.9" y2="1242.3" stroke="#777" stroke-width="0.8" stroke-dasharray="2 1.5"/>
<circle cx="270.0" cy="1242.3" r="2" fill="#444"/>
<circle cx="297.9" cy="1242.3" r="2" fill="#444"/>
<line x1="246.9" y1="1242.3" x2="270.0" y2="1242.3" stroke="#555" stroke-width="1.6"/>
<line x1="284.2" y1="1221.3" x2="284.2" y2="1251.0" stroke="#888" stroke-width="0.8"/>
<rect x="284.2" y="1251.0" width="19.4" height="17.6" fill="#fff" stroke="#9a9a9a" stroke-width="1"/>
<text x="293.9" y="1263.9" font-size="11.5" fill="#2a2a2a" text-anchor="middle" textLength="10.9" lengthAdjust="spacingAndGlyphs">Г1</text>
<rect x="543.5" y="1221.3" width="22.2" height="16.3" stroke="#4a4a4a" stroke-width="1" fill="none"/>
<rect x="539.0" y="1237.6" width="31.2" height="9.4" stroke="#4a4a4a" stroke-width="1.1" fill="none"/>
<line x1="542.0" y1="1242.3" x2="567.2" y2="1242.3" stroke="#777" stroke-width="0.8" stroke-dasharray="2 1.5"/>
<circle cx="539.0" cy="1242.3" r="2" fill="#444"/>
<circle cx="570.2" cy="1242.3" r="2" fill="#444"/>
<line x1="518.0" y1="1242.3" x2="539.0" y2="1242.3" stroke="#555" stroke-width="1.6"/>
<line x1="554.0" y1="1221.3" x2="554.0" y2="1252.0" stroke="#888" stroke-width="0.8"/>
<rect x="554.0" y="1252.0" width="22.2" height="17.0" fill="#fff" stroke="#9a9a9a" stroke-width="1"/>
<text x="565.1" y="1264.6" font-size="11.5" fill="#2a2a2a" text-anchor="middle" textLength="12.4" lengthAdjust="spacingAndGlyphs">Г2</text>
<rect x="967.9" y="1221.3" width="20.5" height="16.3" stroke="#4a4a4a" stroke-width="1" fill="none"/>
<rect x="963.4" y="1237.6" width="29.5" height="9.4" stroke="#4a4a4a" stroke-width="1.1" fill="none"/>
<line x1="966.4" y1="1242.3" x2="989.9" y2="1242.3" stroke="#777" stroke-width="0.8" stroke-dasharray="2 1.5"/>
<circle cx="963.4" cy="1242.3" r="2" fill="#444"/>
<circle cx="992.9" cy="1242.3" r="2" fill="#444"/>
<line x1="941.5" y1="1242.3" x2="963.4" y2="1242.3" stroke="#555" stroke-width="1.6"/>
<line x1="978.7" y1="1221.3" x2="978.7" y2="1251.0" stroke="#888" stroke-width="0.8"/>
<rect x="978.7" y="1251.0" width="21.3" height="18.3" fill="#fff" stroke="#9a9a9a" stroke-width="1"/>
<text x="989.4" y="1264.2" font-size="11.5" fill="#2a2a2a" text-anchor="middle" textLength="11.9" lengthAdjust="spacingAndGlyphs">Г3</text>
<rect x="1394.0" y="1221.3" width="19.8" height="16.3" stroke="#4a4a4a" stroke-width="1" fill="none"/>
<rect x="1389.5" y="1237.6" width="28.8" height="9.4" stroke="#4a4a4a" stroke-width="1.1" fill="none"/>
<line x1="1392.5" y1="1242.3" x2="1415.3" y2="1242.3" stroke="#777" stroke-width="0.8" stroke-dasharray="2 1.5"/>
<circle cx="1389.5" cy="1242.3" r="2" fill="#444"/>
<circle cx="1418.3" cy="1242.3" r="2" fill="#444"/>
<line x1="1367.0" y1="1242.3" x2="1389.5" y2="1242.3" stroke="#555" stroke-width="1.6"/>
<line x1="1404.0" y1="1221.3" x2="1404.0" y2="1251.3" stroke="#888" stroke-width="0.8"/>
<rect x="1404.0" y="1251.3" width="22.6" height="17.5" fill="#fff" stroke="#9a9a9a" stroke-width="1"/>
<text x="1415.3" y="1264.1" font-size="11.5" fill="#2a2a2a" text-anchor="middle" textLength="12.7" lengthAdjust="spacingAndGlyphs">Г4</text>
<rect x="493.4" y="1221.3" width="5.0" height="17.0" stroke="#4a4a4a" stroke-width="0.9" fill="none"/>
<path d="M495.9,1238.3 l-4,2 l4,2 l4,-2 Z" fill="#333"/>
<circle cx="495.9" cy="1241.3" r="2.3" fill="none" stroke="#333" stroke-width="1.2"/>
<line x1="495.9" y1="1243.3" x2="495.9" y2="1252.0" stroke="#888" stroke-width="0.8"/>
<rect x="495.9" y="1252.0" width="20.6" height="16.8" fill="#fff" stroke="#9a9a9a" stroke-width="1"/>
<text x="506.2" y="1264.5" font-size="11.5" fill="#2a2a2a" text-anchor="middle" textLength="11.5" lengthAdjust="spacingAndGlyphs">Л1</text>
<rect x="1280.1" y="1221.3" width="5.0" height="17.0" stroke="#4a4a4a" stroke-width="0.9" fill="none"/>
<path d="M1282.6,1238.3 l-4,2 l4,2 l4,-2 Z" fill="#333"/>
<circle cx="1282.6" cy="1241.3" r="2.3" fill="none" stroke="#333" stroke-width="1.2"/>
<line x1="1282.6" y1="1243.3" x2="1282.6" y2="1251.3" stroke="#888" stroke-width="0.8"/>
<rect x="1282.0" y="1251.3" width="24.0" height="17.5" fill="#fff" stroke="#9a9a9a" stroke-width="1"/>
<text x="1294.0" y="1264.1" font-size="11.5" fill="#2a2a2a" text-anchor="middle" textLength="13.4" lengthAdjust="spacingAndGlyphs">Л2</text>
<rect x="1453.5" y="1094.8" width="27.5" height="142.0" stroke="#4a4a4a" stroke-width="1.1" fill="none"/>
<rect x="1449.0" y="1237.6" width="36.5" height="9.4" stroke="#4a4a4a" stroke-width="1.1" fill="none"/>
<line x1="1452.0" y1="1242.3" x2="1483.0" y2="1242.3" stroke="#777" stroke-width="0.8" stroke-dasharray="2 1.5"/>
<circle cx="1449" cy="1242.3" r="2" fill="#444"/><circle cx="1485.5" cy="1242.3" r="2" fill="#444"/>
<line x1="1413.8" y1="1242.3" x2="1449.0" y2="1242.3" stroke="#555" stroke-width="1.2"/>
<line x1="1467.0" y1="1094.8" x2="1467.0" y2="1251.3" stroke="#888" stroke-width="0.8"/>
<path d="M1506,1102.0 L1478,1102.0 A10,10 0 0 0 1478,1122.0 L1506,1122.0" fill="none" stroke="#4a4a4a" stroke-width="1"/>
<path d="M1502,1107.0 L1478,1107.0 A5,5 0 0 0 1478,1117.0 L1502,1117.0" fill="none" stroke="#4a4a4a" stroke-width="0.8"/>
<rect x="1481.0" y="1100.0" width="25.0" height="24.0" stroke="#777" stroke-width="0.8" fill="none"/>
<path d="M1506,1157.0 L1478,1157.0 A10,10 0 0 0 1478,1177.0 L1506,1177.0" fill="none" stroke="#4a4a4a" stroke-width="1"/>
<path d="M1502,1162.0 L1478,1162.0 A5,5 0 0 0 1478,1172.0 L1502,1172.0" fill="none" stroke="#4a4a4a" stroke-width="0.8"/>
<rect x="1481.0" y="1155.0" width="25.0" height="24.0" stroke="#777" stroke-width="0.8" fill="none"/>
<circle cx="1467" cy="1135.6" r="3.8" fill="none" stroke="#4a4a4a" stroke-width="1"/>
<line x1="1481.0" y1="1133.6" x2="1500.0" y2="1133.6" stroke="#888" stroke-width="0.7"/>
<line x1="1481.0" y1="1137.6" x2="1500.0" y2="1137.6" stroke="#888" stroke-width="0.7"/>
<circle cx="1467" cy="1193.0" r="3.8" fill="none" stroke="#4a4a4a" stroke-width="1"/>
<line x1="1481.0" y1="1191.0" x2="1500.0" y2="1191.0" stroke="#888" stroke-width="0.7"/>
<line x1="1481.0" y1="1195.0" x2="1500.0" y2="1195.0" stroke="#888" stroke-width="0.7"/>
<rect x="1467.0" y="1251.3" width="21.0" height="17.5" fill="#fff" stroke="#9a9a9a" stroke-width="1"/>
<text x="1477.5" y="1264.1" font-size="11.5" fill="#2a2a2a" text-anchor="middle" textLength="11.8" lengthAdjust="spacingAndGlyphs">Б1</text>
<rect x="974.7" y="989.0" width="7.0" height="16.5" stroke="#4a4a4a" stroke-width="1" fill="none"/>
<rect x="971.7" y="983.0" width="13.0" height="6.0" stroke="#333" stroke-width="1.1" fill="none"/>
<circle cx="971.7" cy="986" r="1.6" fill="#333"/><circle cx="984.7" cy="986" r="1.6" fill="#333"/>
<line x1="978.2" y1="910.4" x2="978.2" y2="986.0" stroke="#888" stroke-width="0.8"/>
<rect x="978.0" y="891.6" width="21.0" height="18.8" fill="#fff" stroke="#9a9a9a" stroke-width="1"/>
<text x="988.5" y="905.1" font-size="11.5" fill="#2a2a2a" text-anchor="middle" textLength="11.8" lengthAdjust="spacingAndGlyphs">К1</text>
<rect x="1036.2" y="989.0" width="11.0" height="16.5" stroke="#4a4a4a" stroke-width="1" fill="none"/>
<rect x="1032.7" y="983.0" width="18.0" height="6.0" stroke="#333" stroke-width="1.1" fill="none"/>
<circle cx="1032.7" cy="986" r="1.6" fill="#333"/><circle cx="1050.7" cy="986" r="1.6" fill="#333"/>
<line x1="1041.7" y1="910.4" x2="1041.7" y2="986.0" stroke="#888" stroke-width="0.8"/>
<rect x="1020.6" y="892.0" width="21.1" height="18.4" fill="#fff" stroke="#9a9a9a" stroke-width="1"/>
<text x="1031.2" y="905.3" font-size="11.5" fill="#2a2a2a" text-anchor="middle" textLength="11.8" lengthAdjust="spacingAndGlyphs">Н1</text>
<rect x="1070.8" y="989.0" width="4.0" height="16.5" stroke="#4a4a4a" stroke-width="1" fill="none"/>
<rect x="1068.3" y="983.0" width="9.0" height="6.0" stroke="#333" stroke-width="1.1" fill="none"/>
<circle cx="1068.3" cy="986" r="1.6" fill="#333"/><circle cx="1077.3" cy="986" r="1.6" fill="#333"/>
<line x1="1072.8" y1="911.5" x2="1072.8" y2="986.0" stroke="#888" stroke-width="0.8"/>
<rect x="1052.0" y="893.0" width="20.8" height="18.5" fill="#fff" stroke="#9a9a9a" stroke-width="1"/>
<text x="1062.4" y="906.4" font-size="11.5" fill="#2a2a2a" text-anchor="middle" textLength="11.6" lengthAdjust="spacingAndGlyphs">О1</text>
<rect x="1103.0" y="989.0" width="4.0" height="16.5" stroke="#4a4a4a" stroke-width="1" fill="none"/>
<rect x="1100.5" y="983.0" width="9.0" height="6.0" stroke="#333" stroke-width="1.1" fill="none"/>
<circle cx="1100.5" cy="986" r="1.6" fill="#333"/><circle cx="1109.5" cy="986" r="1.6" fill="#333"/>
<line x1="1105.0" y1="911.5" x2="1105.0" y2="986.0" stroke="#888" stroke-width="0.8"/>
<rect x="1083.6" y="893.0" width="21.4" height="18.5" fill="#fff" stroke="#9a9a9a" stroke-width="1"/>
<text x="1094.3" y="906.4" font-size="11.5" fill="#2a2a2a" text-anchor="middle" textLength="12.0" lengthAdjust="spacingAndGlyphs">З1</text>
<rect x="1135.0" y="989.0" width="4.0" height="16.5" stroke="#4a4a4a" stroke-width="1" fill="none"/>
<rect x="1132.5" y="983.0" width="9.0" height="6.0" stroke="#333" stroke-width="1.1" fill="none"/>
<circle cx="1132.5" cy="986" r="1.6" fill="#333"/><circle cx="1141.5" cy="986" r="1.6" fill="#333"/>
<line x1="1137.0" y1="910.4" x2="1137.0" y2="986.0" stroke="#888" stroke-width="0.8"/>
<rect x="1115.9" y="892.0" width="21.1" height="18.4" fill="#fff" stroke="#9a9a9a" stroke-width="1"/>
<text x="1126.5" y="905.3" font-size="11.5" fill="#2a2a2a" text-anchor="middle" textLength="11.8" lengthAdjust="spacingAndGlyphs">И1</text>
<rect x="1166.0" y="989.0" width="4.0" height="16.5" stroke="#4a4a4a" stroke-width="1" fill="none"/>
<rect x="1163.5" y="983.0" width="9.0" height="6.0" stroke="#333" stroke-width="1.1" fill="none"/>
<circle cx="1163.5" cy="986" r="1.6" fill="#333"/><circle cx="1172.5" cy="986" r="1.6" fill="#333"/>
<line x1="1168.0" y1="910.8" x2="1168.0" y2="986.0" stroke="#888" stroke-width="0.8"/>
<rect x="1145.8" y="892.0" width="22.2" height="18.8" fill="#fff" stroke="#9a9a9a" stroke-width="1"/>
<text x="1156.9" y="905.5" font-size="11.5" fill="#2a2a2a" text-anchor="middle" textLength="12.4" lengthAdjust="spacingAndGlyphs">И2</text>
<path d="M1327.4,923.8 C1327.4,912 1340,908.8 1353.6,908.8 C1367,908.8 1379.8,912 1379.8,923.8" fill="none" stroke="#4a4a4a" stroke-width="1.1"/>
<rect x="1327.4" y="923.8" width="52.4" height="90.7" stroke="#4a4a4a" stroke-width="1.1" fill="none"/>
<rect x="1322.0" y="982.0" width="62.0" height="8.5" stroke="#333" stroke-width="1.2" fill="none"/>
<circle cx="1324" cy="986.2" r="1.1" fill="#444"/>
<circle cx="1329" cy="986.2" r="1.1" fill="#444"/>
<circle cx="1334" cy="986.2" r="1.1" fill="#444"/>
<circle cx="1339" cy="986.2" r="1.1" fill="#444"/>
<circle cx="1344" cy="986.2" r="1.1" fill="#444"/>
<circle cx="1349" cy="986.2" r="1.1" fill="#444"/>
<circle cx="1354" cy="986.2" r="1.1" fill="#444"/>
<circle cx="1359" cy="986.2" r="1.1" fill="#444"/>
<circle cx="1364" cy="986.2" r="1.1" fill="#444"/>
<circle cx="1369" cy="986.2" r="1.1" fill="#444"/>
<circle cx="1374" cy="986.2" r="1.1" fill="#444"/>
<circle cx="1379" cy="986.2" r="1.1" fill="#444"/>
<line x1="1322.0" y1="990.5" x2="1384.0" y2="990.5" stroke="#333" stroke-width="1.2"/>
<line x1="1353.6" y1="893.0" x2="1353.6" y2="1014.5" stroke="#888" stroke-width="0.8"/>
<ellipse cx="1353.6" cy="902" rx="4.5" ry="3.5" fill="none" stroke="#333" stroke-width="1.3"/>
<line x1="1353.6" y1="905.5" x2="1353.6" y2="908.8" stroke="#333" stroke-width="1.2"/>
<rect x="1353.7" y="875.6" width="21.0" height="17.6" fill="#fff" stroke="#9a9a9a" stroke-width="1"/>
<text x="1364.2" y="888.5" font-size="11.5" fill="#2a2a2a" text-anchor="middle" textLength="11.8" lengthAdjust="spacingAndGlyphs">В1</text>
<rect x="1315.0" y="934.0" width="12.4" height="4.0" stroke="#4a4a4a" stroke-width="0.9" fill="none"/>
<ellipse cx="1315" cy="936.0" rx="3" ry="4.5" fill="#555" stroke="#333" stroke-width="1"/>
<line x1="1275.0" y1="936.0" x2="1312.0" y2="936.0" stroke="#888" stroke-width="0.8"/>
<rect x="1315.0" y="952.4" width="12.4" height="4.0" stroke="#4a4a4a" stroke-width="0.9" fill="none"/>
<ellipse cx="1315" cy="954.4" rx="3" ry="4.5" fill="#555" stroke="#333" stroke-width="1"/>
<line x1="1275.0" y1="954.4" x2="1312.0" y2="954.4" stroke="#888" stroke-width="0.8"/>
<rect x="1315.0" y="971.4" width="12.4" height="4.0" stroke="#4a4a4a" stroke-width="0.9" fill="none"/>
<ellipse cx="1315" cy="973.4" rx="3" ry="4.5" fill="#555" stroke="#333" stroke-width="1"/>
<line x1="1275.0" y1="973.4" x2="1312.0" y2="973.4" stroke="#888" stroke-width="0.8"/>
<rect x="1379.8" y="934.0" width="13.0" height="4.0" stroke="#4a4a4a" stroke-width="0.9" fill="none"/>
<ellipse cx="1393" cy="936.0" rx="3" ry="4.5" fill="#555" stroke="#333" stroke-width="1"/>
<rect x="1379.8" y="971.4" width="13.0" height="4.0" stroke="#4a4a4a" stroke-width="0.9" fill="none"/>
<ellipse cx="1393" cy="973.4" rx="3" ry="4.5" fill="#555" stroke="#333" stroke-width="1"/>
<rect x="1255.0" y="917.6" width="20.0" height="18.4" fill="#fff" stroke="#9a9a9a" stroke-width="1"/>
<text x="1265.0" y="930.9" font-size="11.5" fill="#2a2a2a" text-anchor="middle" textLength="11.2" lengthAdjust="spacingAndGlyphs">Е1</text>
<rect x="1253.0" y="937.0" width="22.0" height="17.4" fill="#fff" stroke="#9a9a9a" stroke-width="1"/>
<text x="1264.0" y="949.8" font-size="11.5" fill="#2a2a2a" text-anchor="middle" textLength="12.3" lengthAdjust="spacingAndGlyphs">Е2</text>
<rect x="1254.0" y="956.4" width="21.0" height="17.0" fill="#fff" stroke="#9a9a9a" stroke-width="1"/>
<text x="1264.5" y="969.0" font-size="11.5" fill="#2a2a2a" text-anchor="middle" textLength="11.8" lengthAdjust="spacingAndGlyphs">Е3</text>
<rect x="1401.0" y="921.0" width="10.0" height="63.7" stroke="#4a4a4a" stroke-width="1" fill="none"/>
<line x1="1406.0" y1="921.0" x2="1406.0" y2="984.7" stroke="#888" stroke-width="0.7"/>
<rect x="1398.0" y="918.0" width="17.0" height="5.0" stroke="#333" stroke-width="1.1" fill="none"/>
<rect x="1398.0" y="982.0" width="17.0" height="5.0" stroke="#333" stroke-width="1.1" fill="none"/>
<line x1="1399.0" y1="987.0" x2="1399.0" y2="991.0" stroke="#333" stroke-width="1.2"/>
<line x1="1404.0" y1="987.0" x2="1404.0" y2="991.0" stroke="#333" stroke-width="1.2"/>
<line x1="1409.0" y1="987.0" x2="1409.0" y2="991.0" stroke="#333" stroke-width="1.2"/>
<line x1="1414.0" y1="987.0" x2="1414.0" y2="991.0" stroke="#333" stroke-width="1.2"/>
<line x1="1393.0" y1="936.0" x2="1401.0" y2="936.0" stroke="#4a4a4a" stroke-width="1"/>
<line x1="1393.0" y1="973.4" x2="1401.0" y2="973.4" stroke="#4a4a4a" stroke-width="1"/>
<line x1="1407.0" y1="915.9" x2="1407.0" y2="921.0" stroke="#888" stroke-width="0.8"/>
<rect x="1407.0" y="897.7" width="21.0" height="18.2" fill="#fff" stroke="#9a9a9a" stroke-width="1"/>
<text x="1417.5" y="910.9" font-size="11.5" fill="#2a2a2a" text-anchor="middle" textLength="11.8" lengthAdjust="spacingAndGlyphs">Д1</text>
<rect x="1455.0" y="989.0" width="25.5" height="16.5" stroke="#4a4a4a" stroke-width="1" fill="none"/>
<rect x="1450.7" y="981.0" width="34.0" height="8.0" stroke="#4a4a4a" stroke-width="1.1" fill="none"/>
<line x1="1453.7" y1="985.0" x2="1481.7" y2="985.0" stroke="#777" stroke-width="0.8" stroke-dasharray="2 1.5"/>
<circle cx="1450.7" cy="985.0" r="1.8" fill="#444"/>
<circle cx="1484.7" cy="985.0" r="1.8" fill="#444"/>
<line x1="1421.0" y1="985.0" x2="1450.7" y2="985.0" stroke="#555" stroke-width="1.6"/>
<path d="M1481.6,1025.9 L1481.2,1027.1 L1480.2,1028.2 L1479.0,1029.2 L1478.1,1030.2 L1477.8,1031.2 L1478.0,1032.4 L1478.6,1033.8 L1479.1,1035.3 L1479.0,1036.6 L1478.3,1037.6 L1476.9,1038.2 L1475.4,1038.5 L1474.1,1038.9 L1473.2,1039.6 L1472.8,1040.7 L1472.6,1042.1 L1472.4,1043.7 L1471.8,1044.9 L1470.8,1045.6 L1469.4,1045.6 L1467.9,1045.3 L1466.5,1044.9 L1465.3,1044.9 L1464.4,1045.6 L1463.6,1046.8 L1462.7,1048.1 L1461.7,1049.0 L1460.5,1049.3 L1459.2,1048.9 L1458.0,1047.9 L1456.9,1046.9 L1455.9,1046.2 L1454.8,1046.2 L1453.6,1046.8 L1452.2,1047.6 L1450.8,1048.1 L1449.5,1047.9 L1448.6,1047.1 L1447.9,1045.7 L1447.4,1044.3 L1446.8,1043.1 L1446.0,1042.5 L1444.7,1042.3 L1443.2,1042.4 L1441.6,1042.3 L1440.5,1041.7 L1439.9,1040.6 L1439.8,1039.1 L1440.0,1037.6 L1440.1,1036.2 L1439.8,1035.2 L1438.9,1034.4 L1437.5,1033.8 L1436.2,1033.0 L1435.3,1032.0 L1435.1,1030.8 L1435.6,1029.5 L1436.5,1028.2 L1437.3,1027.0 L1437.6,1025.9 L1437.3,1024.8 L1436.5,1023.6 L1435.6,1022.3 L1435.1,1021.0 L1435.3,1019.8 L1436.2,1018.8 L1437.5,1018.0 L1438.9,1017.4 L1439.8,1016.6 L1440.1,1015.6 L1440.0,1014.2 L1439.8,1012.7 L1439.9,1011.2 L1440.5,1010.1 L1441.6,1009.5 L1443.2,1009.4 L1444.7,1009.5 L1446.0,1009.3 L1446.8,1008.7 L1447.4,1007.5 L1447.9,1006.1 L1448.6,1004.7 L1449.5,1003.9 L1450.8,1003.7 L1452.2,1004.2 L1453.6,1005.0 L1454.8,1005.6 L1455.9,1005.6 L1456.9,1004.9 L1458.0,1003.9 L1459.2,1002.9 L1460.5,1002.5 L1461.7,1002.8 L1462.7,1003.7 L1463.6,1005.0 L1464.4,1006.2 L1465.3,1006.9 L1466.5,1006.9 L1467.9,1006.5 L1469.4,1006.2 L1470.8,1006.2 L1471.8,1006.9 L1472.4,1008.1 L1472.6,1009.7 L1472.8,1011.1 L1473.2,1012.2 L1474.1,1012.9 L1475.4,1013.3 L1476.9,1013.6 L1478.3,1014.2 L1479.0,1015.2 L1479.1,1016.5 L1478.6,1018.0 L1478.0,1019.4 L1477.8,1020.6 L1478.1,1021.6 L1479.0,1022.6 L1480.2,1023.6 L1481.2,1024.7 Z" fill="#fff" stroke="#4a4a4a" stroke-width="1"/>
<rect x="1454.0" y="1013.0" width="9.0" height="14.0" stroke="#555" stroke-width="1" fill="none"/>
<line x1="1458.0" y1="1000.0" x2="1458.0" y2="1040.0" stroke="#999" stroke-width="0.7"/>
<line x1="1467.7" y1="960.6" x2="1467.7" y2="1000.0" stroke="#888" stroke-width="0.8"/>
<rect x="1467.7" y="942.0" width="21.8" height="18.6" fill="#fff" stroke="#9a9a9a" stroke-width="1"/>
<text x="1478.6" y="955.4" font-size="11.5" fill="#2a2a2a" text-anchor="middle" textLength="12.2" lengthAdjust="spacingAndGlyphs">М1</text>
<circle cx="1721.1" cy="1113.4" r="109.0" fill="none" stroke="#666" stroke-width="1"/>
<line x1="1612.0" y1="1113.4" x2="1831.0" y2="1113.4" stroke="#6a6a6a" stroke-width="0.9"/>
<line x1="1721.1" y1="884.0" x2="1721.1" y2="1273.6" stroke="#444" stroke-width="0.9"/>
<path d="M1695,923 C1695,913 1707,909.5 1721,909.5 C1735,909.5 1747.2,913 1747.2,923" fill="none" stroke="#4a4a4a" stroke-width="1.1"/>
<line x1="1695.0" y1="923.0" x2="1747.2" y2="923.0" stroke="#4a4a4a" stroke-width="1"/>
<line x1="1695.0" y1="923.0" x2="1695.0" y2="982.0" stroke="#4a4a4a" stroke-width="1.1"/>
<line x1="1747.2" y1="923.0" x2="1747.2" y2="982.0" stroke="#4a4a4a" stroke-width="1.1"/>
<path d="M1691,982 L1751,982 L1751,990.7 L1691,990.7 Z" fill="#fff" stroke="#333" stroke-width="1.2"/>
<g stroke="#333" stroke-width="0.8">
<line x1="1693" y1="982" x2="1693" y2="990.7"/>
<line x1="1696" y1="982" x2="1696" y2="990.7"/>
<line x1="1699" y1="982" x2="1699" y2="990.7"/>
<line x1="1702" y1="982" x2="1702" y2="990.7"/>
<line x1="1705" y1="982" x2="1705" y2="990.7"/>
<line x1="1708" y1="982" x2="1708" y2="990.7"/>
<line x1="1711" y1="982" x2="1711" y2="990.7"/>
<line x1="1714" y1="982" x2="1714" y2="990.7"/>
<line x1="1717" y1="982" x2="1717" y2="990.7"/>
<line x1="1720" y1="982" x2="1720" y2="990.7"/>
<line x1="1723" y1="982" x2="1723" y2="990.7"/>
<line x1="1726" y1="982" x2="1726" y2="990.7"/>
<line x1="1729" y1="982" x2="1729" y2="990.7"/>
<line x1="1732" y1="982" x2="1732" y2="990.7"/>
<line x1="1735" y1="982" x2="1735" y2="990.7"/>
<line x1="1738" y1="982" x2="1738" y2="990.7"/>
<line x1="1741" y1="982" x2="1741" y2="990.7"/>
<line x1="1744" y1="982" x2="1744" y2="990.7"/>
<line x1="1747" y1="982" x2="1747" y2="990.7"/>
<line x1="1750" y1="982" x2="1750" y2="990.7"/>
</g>
<line x1="1689.0" y1="986.3" x2="1753.0" y2="986.3" stroke="#222" stroke-width="1.5"/>
<line x1="1700.0" y1="990.7" x2="1700.0" y2="1006.0" stroke="#4a4a4a" stroke-width="0.9"/>
<line x1="1707.0" y1="990.7" x2="1707.0" y2="1006.0" stroke="#4a4a4a" stroke-width="0.9"/>
<line x1="1735.0" y1="990.7" x2="1735.0" y2="1006.0" stroke="#4a4a4a" stroke-width="0.9"/>
<line x1="1742.0" y1="990.7" x2="1742.0" y2="1006.0" stroke="#4a4a4a" stroke-width="0.9"/>
<ellipse cx="1721" cy="901" rx="6" ry="4.5" fill="none" stroke="#333" stroke-width="1.4"/>
<line x1="1727.0" y1="901.0" x2="1732.0" y2="901.0" stroke="#333" stroke-width="1.2"/>
<circle cx="1721" cy="936.0" r="5" fill="#fff" stroke="#333" stroke-width="1.3"/>
<path d="M1717.5,932.5 l7,7 M1724.5,932.5 l-7,7" stroke="#333" stroke-width="1"/>
<line x1="1726.0" y1="936.0" x2="1752.5" y2="936.0" stroke="#888" stroke-width="0.8"/>
<circle cx="1721" cy="954.4" r="5" fill="#fff" stroke="#333" stroke-width="1.3"/>
<path d="M1717.5,950.9 l7,7 M1724.5,950.9 l-7,7" stroke="#333" stroke-width="1"/>
<line x1="1726.0" y1="954.4" x2="1752.5" y2="954.4" stroke="#888" stroke-width="0.8"/>
<circle cx="1721" cy="973.4" r="5" fill="#fff" stroke="#333" stroke-width="1.3"/>
<path d="M1717.5,969.9 l7,7 M1724.5,969.9 l-7,7" stroke="#333" stroke-width="1"/>
<line x1="1726.0" y1="973.4" x2="1752.5" y2="973.4" stroke="#888" stroke-width="0.8"/>
<line x1="1721.0" y1="966.0" x2="1721.0" y2="970.0" stroke="#333" stroke-width="1.5"/>
<rect x="1752.5" y="918.2" width="19.7" height="18.0" fill="#fff" stroke="#9a9a9a" stroke-width="1"/>
<text x="1762.3" y="931.3" font-size="11.5" fill="#2a2a2a" text-anchor="middle" textLength="11.0" lengthAdjust="spacingAndGlyphs">Е1</text>
<rect x="1752.5" y="937.0" width="21.5" height="17.4" fill="#fff" stroke="#9a9a9a" stroke-width="1"/>
<text x="1763.2" y="949.8" font-size="11.5" fill="#2a2a2a" text-anchor="middle" textLength="12.0" lengthAdjust="spacingAndGlyphs">Е2</text>
<rect x="1752.5" y="956.0" width="19.7" height="18.2" fill="#fff" stroke="#9a9a9a" stroke-width="1"/>
<text x="1762.3" y="969.2" font-size="11.5" fill="#2a2a2a" text-anchor="middle" textLength="11.0" lengthAdjust="spacingAndGlyphs">Е3</text>
<g transform="rotate(-25 1669.8 1008)"><path d="M1660.8,1016 L1660.8,1003 A9,9 0 0 1 1678.8,1003 L1678.8,1016" fill="#fff" stroke="#4a4a4a" stroke-width="1"/><circle cx="1669.8" cy="1003" r="4" fill="none" stroke="#4a4a4a" stroke-width="0.9"/></g>
<g transform="rotate(25 1771.3 1008)"><path d="M1762.3,1016 L1762.3,1003 A9,9 0 0 1 1780.3,1003 L1780.3,1016" fill="#fff" stroke="#4a4a4a" stroke-width="1"/><circle cx="1771.3" cy="1003" r="4" fill="none" stroke="#4a4a4a" stroke-width="0.9"/></g>
<circle cx="1721.1" cy="1113.4" r="109.0" fill="none" stroke="#666" stroke-width="1"/>
<rect x="1716.0" y="1100.0" width="10.5" height="8.5" stroke="#4a4a4a" stroke-width="1" fill="none"/>
<circle cx="1746.7" cy="1138.7" r="25.5" fill="#fff" stroke="#4a4a4a" stroke-width="1.1"/>
<circle cx="1746.7" cy="1138.7" r="22" fill="none" stroke="#222" stroke-width="2.6" stroke-dasharray="1.6 2.2"/>
<line x1="1746.7" y1="1108.0" x2="1746.7" y2="1170.0" stroke="#777" stroke-width="0.8"/>
<line x1="1721.0" y1="1138.7" x2="1841.0" y2="1138.7" stroke="#777" stroke-width="0.8"/>
<line x1="1737.0" y1="1130.0" x2="1737.0" y2="1150.0" stroke="#333" stroke-width="1"/>
<path d="M1737.0,1128 l-2,4 l4,0 Z M1737.0,1152 l-2,-4 l4,0 Z" fill="#333"/>
<line x1="1757.0" y1="1130.0" x2="1757.0" y2="1150.0" stroke="#333" stroke-width="1"/>
<path d="M1757.0,1128 l-2,4 l4,0 Z M1757.0,1152 l-2,-4 l4,0 Z" fill="#333"/>
<path d="M1746.7,1102 L1746.7,1113 M1743,1106 L1750.4,1106 M1746.7,1104 L1766,1104 C1770,1104 1771,1108 1771,1112 L1771,1130" fill="none" stroke="#444" stroke-width="1"/>
<rect x="1841.0" y="1121.3" width="21.7" height="17.9" fill="#fff" stroke="#9a9a9a" stroke-width="1"/>
<text x="1851.8" y="1134.3" font-size="11.5" fill="#2a2a2a" text-anchor="middle" textLength="12.2" lengthAdjust="spacingAndGlyphs">Ж1</text>
<line x1="1627.7" y1="1172.0" x2="1627.7" y2="1236.0" stroke="#4a4a4a" stroke-width="1.1"/>
<line x1="1814.0" y1="1172.0" x2="1814.0" y2="1236.0" stroke="#4a4a4a" stroke-width="1.1"/>
<line x1="1625.0" y1="1236.0" x2="1817.0" y2="1236.0" stroke="#808080" stroke-width="2.2"/>
<line x1="1674.7" y1="1208.0" x2="1674.7" y2="1236.0" stroke="#4a4a4a" stroke-width="1"/>
<line x1="1767.5" y1="1208.0" x2="1767.5" y2="1236.0" stroke="#4a4a4a" stroke-width="1"/>
<line x1="1627.7" y1="1183.0" x2="1640.0" y2="1175.0" stroke="#4a4a4a" stroke-width="0.9"/>
<line x1="1814.0" y1="1183.0" x2="1802.0" y2="1175.0" stroke="#4a4a4a" stroke-width="0.9"/>
<line x1="1635.0" y1="1225.0" x2="1642.0" y2="1225.0" stroke="#555" stroke-width="1"/>
<line x1="1800.0" y1="1225.0" x2="1807.0" y2="1225.0" stroke="#555" stroke-width="1"/>
<circle cx="1818" cy="1230" r="1.6" fill="#222"/>
<rect x="1701.7" y="1237" width="37.7" height="10.5" fill="#fff" stroke="#333" stroke-width="1.1"/>
<g stroke="#333" stroke-width="0.8">
<line x1="1703" y1="1237" x2="1703" y2="1247.5"/>
<line x1="1706" y1="1237" x2="1706" y2="1247.5"/>
<line x1="1709" y1="1237" x2="1709" y2="1247.5"/>
<line x1="1712" y1="1237" x2="1712" y2="1247.5"/>
<line x1="1715" y1="1237" x2="1715" y2="1247.5"/>
<line x1="1718" y1="1237" x2="1718" y2="1247.5"/>
<line x1="1721" y1="1237" x2="1721" y2="1247.5"/>
<line x1="1724" y1="1237" x2="1724" y2="1247.5"/>
<line x1="1727" y1="1237" x2="1727" y2="1247.5"/>
<line x1="1730" y1="1237" x2="1730" y2="1247.5"/>
<line x1="1733" y1="1237" x2="1733" y2="1247.5"/>
<line x1="1736" y1="1237" x2="1736" y2="1247.5"/>
</g>
<line x1="1697.0" y1="1242.0" x2="1744.0" y2="1242.0" stroke="#222" stroke-width="1.5"/>
<line x1="1707.0" y1="1222.0" x2="1707.0" y2="1237.0" stroke="#4a4a4a" stroke-width="0.9"/>
<line x1="1735.0" y1="1222.0" x2="1735.0" y2="1237.0" stroke="#4a4a4a" stroke-width="0.9"/>
<rect x="1721.3" y="866.0" width="21.0" height="18.2" fill="#fff" stroke="#9a9a9a" stroke-width="1"/>
<text x="1731.8" y="879.2" font-size="11.5" fill="#2a2a2a" text-anchor="middle" textLength="11.8" lengthAdjust="spacingAndGlyphs">А1</text>
<rect x="1742.3" y="866.0" width="23.6" height="18.2" fill="#fff" stroke="#9a9a9a" stroke-width="1"/>
<text x="1754.1" y="879.2" font-size="11.5" fill="#2a2a2a" text-anchor="middle" textLength="13.2" lengthAdjust="spacingAndGlyphs">Ж2</text>
<rect x="1765.9" y="866.0" width="20.5" height="18.2" fill="#fff" stroke="#9a9a9a" stroke-width="1"/>
<text x="1776.2" y="879.2" font-size="11.5" fill="#2a2a2a" text-anchor="middle" textLength="11.5" lengthAdjust="spacingAndGlyphs">К1</text>
<rect x="1786.4" y="866.0" width="21.0" height="18.2" fill="#fff" stroke="#9a9a9a" stroke-width="1"/>
<text x="1796.9" y="879.2" font-size="11.5" fill="#2a2a2a" text-anchor="middle" textLength="11.8" lengthAdjust="spacingAndGlyphs">Н1</text>
<rect x="1807.4" y="866.0" width="21.0" height="18.2" fill="#fff" stroke="#9a9a9a" stroke-width="1"/>
<text x="1817.9" y="879.2" font-size="11.5" fill="#2a2a2a" text-anchor="middle" textLength="11.8" lengthAdjust="spacingAndGlyphs">О1</text>
<rect x="1828.4" y="866.0" width="21.1" height="18.2" fill="#fff" stroke="#9a9a9a" stroke-width="1"/>
<text x="1839.0" y="879.2" font-size="11.5" fill="#2a2a2a" text-anchor="middle" textLength="11.8" lengthAdjust="spacingAndGlyphs">З1</text>
<rect x="1849.5" y="866.0" width="21.0" height="18.2" fill="#fff" stroke="#9a9a9a" stroke-width="1"/>
<text x="1860.0" y="879.2" font-size="11.5" fill="#2a2a2a" text-anchor="middle" textLength="11.8" lengthAdjust="spacingAndGlyphs">И1</text>
<rect x="1870.5" y="866.0" width="21.0" height="18.2" fill="#fff" stroke="#9a9a9a" stroke-width="1"/>
<text x="1881.0" y="879.2" font-size="11.5" fill="#2a2a2a" text-anchor="middle" textLength="11.8" lengthAdjust="spacingAndGlyphs">В1</text>
<rect x="1891.5" y="866.0" width="20.8" height="18.2" fill="#fff" stroke="#9a9a9a" stroke-width="1"/>
<text x="1901.9" y="879.2" font-size="11.5" fill="#2a2a2a" text-anchor="middle" textLength="11.6" lengthAdjust="spacingAndGlyphs">М1</text>
<rect x="1721.0" y="1254.7" width="21.5" height="18.3" fill="#fff" stroke="#9a9a9a" stroke-width="1"/>
<text x="1731.7" y="1267.9" font-size="11.5" fill="#2a2a2a" text-anchor="middle" textLength="12.0" lengthAdjust="spacingAndGlyphs">Г1</text>
<rect x="1742.5" y="1254.7" width="21.5" height="18.3" fill="#fff" stroke="#9a9a9a" stroke-width="1"/>
<text x="1753.2" y="1267.9" font-size="11.5" fill="#2a2a2a" text-anchor="middle" textLength="12.0" lengthAdjust="spacingAndGlyphs">Л1</text>
<rect x="1764.0" y="1254.7" width="21.5" height="18.3" fill="#fff" stroke="#9a9a9a" stroke-width="1"/>
<text x="1774.7" y="1267.9" font-size="11.5" fill="#2a2a2a" text-anchor="middle" textLength="12.0" lengthAdjust="spacingAndGlyphs">Г2</text>
<rect x="1785.5" y="1254.7" width="21.5" height="18.3" fill="#fff" stroke="#9a9a9a" stroke-width="1"/>
<text x="1796.2" y="1267.9" font-size="11.5" fill="#2a2a2a" text-anchor="middle" textLength="12.0" lengthAdjust="spacingAndGlyphs">Г3</text>
<rect x="1806.9" y="1254.7" width="21.5" height="18.3" fill="#fff" stroke="#9a9a9a" stroke-width="1"/>
<text x="1817.7" y="1267.9" font-size="11.5" fill="#2a2a2a" text-anchor="middle" textLength="12.0" lengthAdjust="spacingAndGlyphs">Л2</text>
<rect x="1828.4" y="1254.7" width="21.5" height="18.3" fill="#fff" stroke="#9a9a9a" stroke-width="1"/>
<text x="1839.2" y="1267.9" font-size="11.5" fill="#2a2a2a" text-anchor="middle" textLength="12.0" lengthAdjust="spacingAndGlyphs">Г4</text>
<rect x="1849.9" y="1254.7" width="21.5" height="18.3" fill="#fff" stroke="#9a9a9a" stroke-width="1"/>
<text x="1860.7" y="1267.9" font-size="11.5" fill="#2a2a2a" text-anchor="middle" textLength="12.0" lengthAdjust="spacingAndGlyphs">Б1</text>
</svg></body></html>
